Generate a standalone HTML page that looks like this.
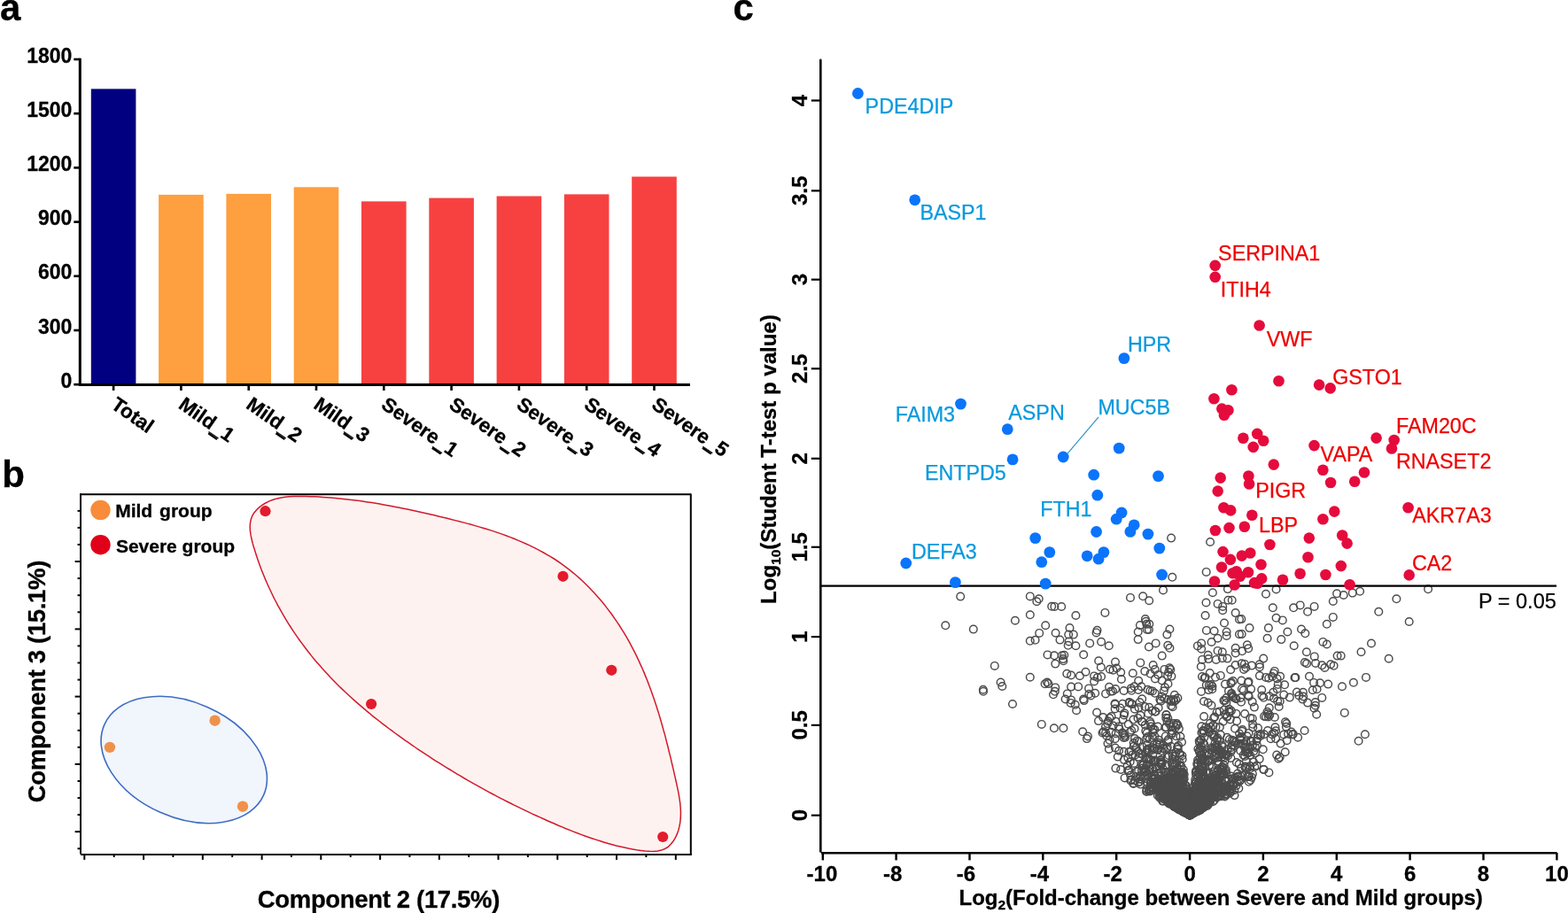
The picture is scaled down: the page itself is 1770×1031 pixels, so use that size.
<!DOCTYPE html>
<html><head><meta charset="utf-8"><title>Figure</title>
<style>html,body{margin:0;padding:0;background:#fff;overflow:hidden;} svg{display:block;} text{font-family:"Liberation Sans", Arial, sans-serif;} text[font-weight=bold]{stroke:#000;stroke-width:0.3px;}</style>
</head><body>
<svg width="1770" height="1031" viewBox="0 0 1770 1031" font-family='"Liberation Sans", Arial, sans-serif'>
<rect width="1770" height="1031" fill="#fff"/>
<text x="0" y="23.3" font-size="42" font-weight="bold">a</text>
<rect x="102.8" y="100.4" width="50.6" height="333.8" fill="#000080"/>
<rect x="179.1" y="219.9" width="50.6" height="214.3" fill="#fe9f40"/>
<rect x="255.4" y="218.9" width="50.6" height="215.3" fill="#fe9f40"/>
<rect x="331.7" y="211.3" width="50.6" height="222.9" fill="#fe9f40"/>
<rect x="408.0" y="227.4" width="50.6" height="206.8" fill="#f74141"/>
<rect x="484.3" y="223.6" width="50.6" height="210.6" fill="#f74141"/>
<rect x="560.6" y="221.5" width="50.6" height="212.7" fill="#f74141"/>
<rect x="636.9" y="219.4" width="50.6" height="214.8" fill="#f74141"/>
<rect x="713.2" y="199.5" width="50.6" height="234.7" fill="#f74141"/>
<line x1="90.3" y1="65.8" x2="90.3" y2="435.8" stroke="#000" stroke-width="3"/>
<line x1="89" y1="434.5" x2="779" y2="434.5" stroke="#000" stroke-width="3"/>
<line x1="83.3" y1="434.2" x2="90.3" y2="434.2" stroke="#000" stroke-width="2.6"/>
<text x="81.3" y="437.7" font-size="23" font-weight="bold" text-anchor="end">0</text>
<line x1="83.3" y1="373.0" x2="90.3" y2="373.0" stroke="#000" stroke-width="2.6"/>
<text x="81.3" y="376.5" font-size="23" font-weight="bold" text-anchor="end">300</text>
<line x1="83.3" y1="311.8" x2="90.3" y2="311.8" stroke="#000" stroke-width="2.6"/>
<text x="81.3" y="315.3" font-size="23" font-weight="bold" text-anchor="end">600</text>
<line x1="83.3" y1="250.6" x2="90.3" y2="250.6" stroke="#000" stroke-width="2.6"/>
<text x="81.3" y="254.1" font-size="23" font-weight="bold" text-anchor="end">900</text>
<line x1="83.3" y1="189.4" x2="90.3" y2="189.4" stroke="#000" stroke-width="2.6"/>
<text x="81.3" y="192.9" font-size="23" font-weight="bold" text-anchor="end">1200</text>
<line x1="83.3" y1="128.2" x2="90.3" y2="128.2" stroke="#000" stroke-width="2.6"/>
<text x="81.3" y="131.7" font-size="23" font-weight="bold" text-anchor="end">1500</text>
<line x1="83.3" y1="67.0" x2="90.3" y2="67.0" stroke="#000" stroke-width="2.6"/>
<text x="81.3" y="70.5" font-size="23" font-weight="bold" text-anchor="end">1800</text>
<line x1="128.1" y1="434.4" x2="128.1" y2="441" stroke="#000" stroke-width="2.6"/>
<text transform="translate(123.9,459.9) rotate(35)" font-size="22.6" font-weight="bold" stroke="#000" stroke-width="0.35">Total</text>
<line x1="204.4" y1="434.4" x2="204.4" y2="441" stroke="#000" stroke-width="2.6"/>
<text transform="translate(200.2,459.9) rotate(35)" font-size="22.6" font-weight="bold" stroke="#000" stroke-width="0.35">Mild_1</text>
<line transform="translate(200.2,459.9) rotate(35)" x1="45.5" y1="3.9" x2="57.5" y2="3.9" stroke="#000" stroke-width="2.3"/>
<line x1="280.7" y1="434.4" x2="280.7" y2="441" stroke="#000" stroke-width="2.6"/>
<text transform="translate(276.5,459.9) rotate(35)" font-size="22.6" font-weight="bold" stroke="#000" stroke-width="0.35">Mild_2</text>
<line transform="translate(276.5,459.9) rotate(35)" x1="45.5" y1="3.9" x2="57.5" y2="3.9" stroke="#000" stroke-width="2.3"/>
<line x1="357.0" y1="434.4" x2="357.0" y2="441" stroke="#000" stroke-width="2.6"/>
<text transform="translate(352.8,459.9) rotate(35)" font-size="22.6" font-weight="bold" stroke="#000" stroke-width="0.35">Mild_3</text>
<line transform="translate(352.8,459.9) rotate(35)" x1="45.5" y1="3.9" x2="57.5" y2="3.9" stroke="#000" stroke-width="2.3"/>
<line x1="433.3" y1="434.4" x2="433.3" y2="441" stroke="#000" stroke-width="2.6"/>
<text transform="translate(429.1,459.9) rotate(35)" font-size="22.6" font-weight="bold" stroke="#000" stroke-width="0.35">Severe_1</text>
<line transform="translate(429.1,459.9) rotate(35)" x1="74.4" y1="3.9" x2="86.4" y2="3.9" stroke="#000" stroke-width="2.3"/>
<line x1="509.6" y1="434.4" x2="509.6" y2="441" stroke="#000" stroke-width="2.6"/>
<text transform="translate(505.4,459.9) rotate(35)" font-size="22.6" font-weight="bold" stroke="#000" stroke-width="0.35">Severe_2</text>
<line transform="translate(505.4,459.9) rotate(35)" x1="74.4" y1="3.9" x2="86.4" y2="3.9" stroke="#000" stroke-width="2.3"/>
<line x1="585.9" y1="434.4" x2="585.9" y2="441" stroke="#000" stroke-width="2.6"/>
<text transform="translate(581.7,459.9) rotate(35)" font-size="22.6" font-weight="bold" stroke="#000" stroke-width="0.35">Severe_3</text>
<line transform="translate(581.7,459.9) rotate(35)" x1="74.4" y1="3.9" x2="86.4" y2="3.9" stroke="#000" stroke-width="2.3"/>
<line x1="662.2" y1="434.4" x2="662.2" y2="441" stroke="#000" stroke-width="2.6"/>
<text transform="translate(658.0,459.9) rotate(35)" font-size="22.6" font-weight="bold" stroke="#000" stroke-width="0.35">Severe_4</text>
<line transform="translate(658.0,459.9) rotate(35)" x1="74.4" y1="3.9" x2="86.4" y2="3.9" stroke="#000" stroke-width="2.3"/>
<line x1="738.5" y1="434.4" x2="738.5" y2="441" stroke="#000" stroke-width="2.6"/>
<text transform="translate(734.3,459.9) rotate(35)" font-size="22.6" font-weight="bold" stroke="#000" stroke-width="0.35">Severe_5</text>
<line transform="translate(734.3,459.9) rotate(35)" x1="74.4" y1="3.9" x2="86.4" y2="3.9" stroke="#000" stroke-width="2.3"/>
<text x="2.2" y="549.5" font-size="42" font-weight="bold">b</text>
<ellipse cx="207.75" cy="858" rx="98.3" ry="65.1" transform="rotate(23.8 207.75 858)" fill="#f1f5fc" stroke="#3d6cc4" stroke-width="1.6"/>
<path d="M284.5,583.1 L286.5,579.5 L289.2,576.2 L292.3,573.1 L295.9,570.4 L299.8,568.0 L304.0,565.9 L308.4,564.2 L312.9,562.9 L317.4,561.9 L322.0,561.2 L326.7,560.7 L331.4,560.5 L336.2,560.4 L341.0,560.4 L345.7,560.5 L350.4,560.7 L355.2,560.8 L359.9,561.1 L364.5,561.4 L369.2,561.7 L373.8,562.1 L378.5,562.5 L383.1,562.9 L387.7,563.4 L392.2,563.9 L396.8,564.4 L401.4,565.0 L405.9,565.6 L410.4,566.2 L414.9,566.9 L419.5,567.6 L424.0,568.3 L428.5,569.1 L433.0,569.9 L437.4,570.7 L441.9,571.5 L446.4,572.4 L450.9,573.3 L455.4,574.2 L459.8,575.1 L464.3,576.0 L468.8,577.0 L473.2,578.0 L477.7,579.0 L482.2,580.0 L486.7,581.1 L491.2,582.1 L495.7,583.2 L500.2,584.2 L504.7,585.3 L509.2,586.4 L513.7,587.6 L518.2,588.7 L522.7,589.9 L527.2,591.1 L531.7,592.3 L536.2,593.6 L540.7,594.9 L545.2,596.2 L549.6,597.5 L554.0,598.9 L558.5,600.4 L562.9,601.9 L567.3,603.4 L571.6,605.0 L576.0,606.6 L580.3,608.3 L584.5,610.1 L588.8,611.9 L593.0,613.7 L597.2,615.6 L601.3,617.6 L605.4,619.7 L609.5,621.8 L613.5,624.0 L617.5,626.3 L621.5,628.6 L625.4,631.0 L629.2,633.5 L633.0,636.1 L636.7,638.8 L640.4,641.6 L644.0,644.4 L647.6,647.3 L651.1,650.3 L654.6,653.4 L658.0,656.5 L661.3,659.7 L664.6,663.0 L667.9,666.4 L671.0,669.8 L674.1,673.2 L677.2,676.7 L680.2,680.3 L683.1,683.9 L685.9,687.6 L688.7,691.3 L691.5,695.0 L694.1,698.8 L696.7,702.6 L699.3,706.5 L701.7,710.3 L704.1,714.2 L706.5,718.2 L708.8,722.1 L711.0,726.1 L713.1,730.1 L715.2,734.2 L717.3,738.2 L719.3,742.3 L721.2,746.4 L723.1,750.6 L725.0,754.7 L726.8,758.9 L728.5,763.1 L730.2,767.3 L731.9,771.6 L733.5,775.9 L735.1,780.2 L736.6,784.5 L738.1,788.8 L739.6,793.2 L741.0,797.6 L742.4,801.9 L743.8,806.4 L745.1,810.8 L746.4,815.2 L747.7,819.7 L748.9,824.2 L750.2,828.6 L751.4,833.1 L752.5,837.7 L753.7,842.2 L754.8,846.7 L755.9,851.3 L757.1,855.9 L758.1,860.5 L759.2,865.0 L760.3,869.7 L761.3,874.3 L762.4,878.9 L763.4,883.5 L764.4,888.2 L765.4,892.8 L766.3,897.4 L767.0,902.0 L767.7,906.6 L768.1,911.2 L768.4,915.7 L768.4,920.2 L768.2,924.7 L767.7,929.1 L766.9,933.4 L765.8,937.7 L764.3,941.9 L762.4,946.0 L760.1,949.8 L757.3,953.3 L754.2,956.3 L750.6,958.5 L746.7,960.1 L742.4,961.0 L737.8,961.4 L733.0,961.3 L728.2,961.0 L723.4,960.4 L718.6,959.7 L713.9,958.9 L709.2,958.0 L704.6,957.0 L700.1,956.0 L695.5,954.9 L691.0,953.7 L686.5,952.5 L682.1,951.2 L677.7,949.8 L673.3,948.4 L668.9,947.0 L664.5,945.5 L660.2,944.0 L655.9,942.4 L651.6,940.8 L647.3,939.1 L643.1,937.4 L638.8,935.7 L634.6,933.9 L630.4,932.2 L626.1,930.3 L621.9,928.5 L617.8,926.7 L613.6,924.8 L609.4,922.9 L605.2,921.0 L601.0,919.1 L596.9,917.1 L592.7,915.1 L588.6,913.1 L584.5,911.1 L580.3,909.1 L576.2,907.0 L572.1,905.0 L568.0,902.9 L563.9,900.8 L559.8,898.6 L555.8,896.5 L551.7,894.3 L547.6,892.1 L543.6,889.9 L539.6,887.6 L535.5,885.4 L531.5,883.1 L527.5,880.8 L523.5,878.5 L519.6,876.2 L515.6,873.8 L511.6,871.4 L507.7,869.0 L503.7,866.6 L499.8,864.2 L495.9,861.7 L492.0,859.3 L488.1,856.8 L484.2,854.2 L480.3,851.7 L476.5,849.2 L472.6,846.6 L468.8,844.0 L465.0,841.4 L461.2,838.7 L457.4,836.1 L453.6,833.4 L449.8,830.7 L446.1,828.0 L442.4,825.2 L438.7,822.5 L435.0,819.7 L431.3,816.9 L427.7,814.0 L424.0,811.2 L420.4,808.3 L416.9,805.3 L413.3,802.4 L409.8,799.4 L406.3,796.4 L402.8,793.4 L399.4,790.4 L396.0,787.3 L392.6,784.2 L389.2,781.0 L385.9,777.9 L382.6,774.7 L379.4,771.4 L376.2,768.2 L373.0,764.9 L369.9,761.5 L366.8,758.2 L363.7,754.8 L360.7,751.3 L357.7,747.9 L354.7,744.4 L351.8,740.9 L349.0,737.3 L346.2,733.7 L343.4,730.0 L340.7,726.4 L338.0,722.7 L335.3,718.9 L332.7,715.2 L330.2,711.3 L327.7,707.5 L325.2,703.6 L322.8,699.7 L320.4,695.7 L318.1,691.7 L315.9,687.7 L313.6,683.6 L311.5,679.5 L309.3,675.4 L307.3,671.2 L305.3,667.0 L303.3,662.7 L301.4,658.5 L299.5,654.1 L297.7,649.8 L295.9,645.4 L294.2,640.9 L292.6,636.4 L291.0,631.9 L289.5,627.4 L288.0,622.8 L286.5,618.1 L285.2,613.5 L284.0,608.8 L283.1,604.2 L282.4,599.7 L282.2,595.3 L282.4,591.0 L283.2,587.0 Z" fill="#fef2f0" stroke="#d2192b" stroke-width="1.5"/>
<line x1="91" y1="557.5" x2="91" y2="964.5" stroke="#000" stroke-width="2"/>
<line x1="90" y1="558.2" x2="780" y2="558.2" stroke="#000" stroke-width="2"/>
<line x1="779.8" y1="557.5" x2="779.8" y2="965.5" stroke="#000" stroke-width="2"/>
<line x1="91" y1="964.9" x2="780.8" y2="964.9" stroke="#000" stroke-width="2"/>
<line x1="87.5" y1="576.9" x2="91" y2="576.9" stroke="#000" stroke-width="2"/>
<line x1="87.5" y1="595.9" x2="91" y2="595.9" stroke="#000" stroke-width="2"/>
<line x1="87.5" y1="615.0" x2="91" y2="615.0" stroke="#000" stroke-width="2"/>
<line x1="84.6" y1="634.1" x2="91" y2="634.1" stroke="#000" stroke-width="2"/>
<line x1="87.5" y1="653.1" x2="91" y2="653.1" stroke="#000" stroke-width="2"/>
<line x1="87.5" y1="672.2" x2="91" y2="672.2" stroke="#000" stroke-width="2"/>
<line x1="87.5" y1="691.3" x2="91" y2="691.3" stroke="#000" stroke-width="2"/>
<line x1="84.6" y1="710.4" x2="91" y2="710.4" stroke="#000" stroke-width="2"/>
<line x1="87.5" y1="729.4" x2="91" y2="729.4" stroke="#000" stroke-width="2"/>
<line x1="87.5" y1="748.5" x2="91" y2="748.5" stroke="#000" stroke-width="2"/>
<line x1="87.5" y1="767.6" x2="91" y2="767.6" stroke="#000" stroke-width="2"/>
<line x1="84.6" y1="786.6" x2="91" y2="786.6" stroke="#000" stroke-width="2"/>
<line x1="87.5" y1="805.7" x2="91" y2="805.7" stroke="#000" stroke-width="2"/>
<line x1="87.5" y1="824.8" x2="91" y2="824.8" stroke="#000" stroke-width="2"/>
<line x1="87.5" y1="843.8" x2="91" y2="843.8" stroke="#000" stroke-width="2"/>
<line x1="84.6" y1="862.9" x2="91" y2="862.9" stroke="#000" stroke-width="2"/>
<line x1="87.5" y1="882.0" x2="91" y2="882.0" stroke="#000" stroke-width="2"/>
<line x1="87.5" y1="901.1" x2="91" y2="901.1" stroke="#000" stroke-width="2"/>
<line x1="87.5" y1="920.1" x2="91" y2="920.1" stroke="#000" stroke-width="2"/>
<line x1="84.6" y1="939.2" x2="91" y2="939.2" stroke="#000" stroke-width="2"/>
<line x1="87.5" y1="958.3" x2="91" y2="958.3" stroke="#000" stroke-width="2"/>
<line x1="95.3" y1="964.9" x2="95.3" y2="970.9" stroke="#000" stroke-width="2"/>
<line x1="128.7" y1="964.9" x2="128.7" y2="968" stroke="#000" stroke-width="2"/>
<line x1="162.1" y1="964.9" x2="162.1" y2="970.9" stroke="#000" stroke-width="2"/>
<line x1="195.4" y1="964.9" x2="195.4" y2="968" stroke="#000" stroke-width="2"/>
<line x1="228.8" y1="964.9" x2="228.8" y2="970.9" stroke="#000" stroke-width="2"/>
<line x1="262.2" y1="964.9" x2="262.2" y2="968" stroke="#000" stroke-width="2"/>
<line x1="295.6" y1="964.9" x2="295.6" y2="970.9" stroke="#000" stroke-width="2"/>
<line x1="328.9" y1="964.9" x2="328.9" y2="968" stroke="#000" stroke-width="2"/>
<line x1="362.3" y1="964.9" x2="362.3" y2="970.9" stroke="#000" stroke-width="2"/>
<line x1="395.7" y1="964.9" x2="395.7" y2="968" stroke="#000" stroke-width="2"/>
<line x1="429.1" y1="964.9" x2="429.1" y2="970.9" stroke="#000" stroke-width="2"/>
<line x1="462.4" y1="964.9" x2="462.4" y2="968" stroke="#000" stroke-width="2"/>
<line x1="495.8" y1="964.9" x2="495.8" y2="970.9" stroke="#000" stroke-width="2"/>
<line x1="529.2" y1="964.9" x2="529.2" y2="968" stroke="#000" stroke-width="2"/>
<line x1="562.5" y1="964.9" x2="562.5" y2="970.9" stroke="#000" stroke-width="2"/>
<line x1="595.9" y1="964.9" x2="595.9" y2="968" stroke="#000" stroke-width="2"/>
<line x1="629.3" y1="964.9" x2="629.3" y2="970.9" stroke="#000" stroke-width="2"/>
<line x1="662.7" y1="964.9" x2="662.7" y2="968" stroke="#000" stroke-width="2"/>
<line x1="696.0" y1="964.9" x2="696.0" y2="970.9" stroke="#000" stroke-width="2"/>
<line x1="729.4" y1="964.9" x2="729.4" y2="968" stroke="#000" stroke-width="2"/>
<line x1="762.8" y1="964.9" x2="762.8" y2="970.9" stroke="#000" stroke-width="2"/>
<circle cx="123.9" cy="843.9" r="6.2" fill="#f0914a"/>
<circle cx="242.6" cy="813.7" r="6.2" fill="#f0914a"/>
<circle cx="274" cy="910.7" r="6.2" fill="#f0914a"/>
<circle cx="299.5" cy="577.2" r="6.1" fill="#e31b2c"/>
<circle cx="635.5" cy="650.8" r="6.1" fill="#e31b2c"/>
<circle cx="690.3" cy="756.8" r="6.1" fill="#e31b2c"/>
<circle cx="419.1" cy="795" r="6.1" fill="#e31b2c"/>
<circle cx="748.2" cy="945" r="6.1" fill="#e31b2c"/>
<circle cx="113.45" cy="576" r="11.2" fill="#f98c3a"/>
<circle cx="113.45" cy="615.2" r="11.2" fill="#e1001a"/>
<text y="584.2" font-size="21" font-weight="bold"><tspan x="130.2">Mild</tspan><tspan x="180.1">group</tspan></text>
<text x="130.9" y="624.1" font-size="21" font-weight="bold">Severe group</text>
<text transform="translate(51.2,906.2) rotate(-90)" font-size="27.5" font-weight="bold" textLength="273.5" lengthAdjust="spacing">Component 3 (15.1%)</text>
<text x="290.8" y="1024.7" font-size="27.5" font-weight="bold" textLength="273.5" lengthAdjust="spacing">Component 2 (17.5%)</text>
<text x="827.6" y="23.3" font-size="42" font-weight="bold">c</text>
<path d="M1318,903 L1326,896 L1337,898 L1343,904 L1349,898 L1358,896 L1364,902 L1358,911 L1350,917 L1343.7,920.5 L1334,914 L1324,908 Z" fill="#4a4a4a"/>
<g fill="none" stroke="#4b4b4b" stroke-width="1.45"><circle cx="1084.2" cy="673.6" r="4.3"/><circle cx="1067.3" cy="706.3" r="4.3"/><circle cx="1098.8" cy="710.6" r="4.3"/><circle cx="1145.9" cy="700.7" r="4.3"/><circle cx="1162.8" cy="673.4" r="4.3"/><circle cx="1172.7" cy="676.3" r="4.3"/><circle cx="1170.3" cy="679.2" r="4.3"/><circle cx="1187.2" cy="684.8" r="4.3"/><circle cx="1198.2" cy="685.0" r="4.3"/><circle cx="1162.8" cy="694.3" r="4.3"/><circle cx="1180.2" cy="706.2" r="4.3"/><circle cx="1173.2" cy="714.9" r="4.3"/><circle cx="1168.6" cy="722.8" r="4.3"/><circle cx="1162.8" cy="723.8" r="4.3"/><circle cx="1191.6" cy="714.7" r="4.3"/><circle cx="1196.5" cy="722.6" r="4.3"/><circle cx="1182.5" cy="739.4" r="4.3"/><circle cx="1190.1" cy="740.3" r="4.3"/><circle cx="1191.3" cy="749.6" r="4.3"/><circle cx="1198.8" cy="740.3" r="4.3"/><circle cx="1122.8" cy="751.9" r="4.3"/><circle cx="1162.8" cy="764.7" r="4.3"/><circle cx="1129.6" cy="770.5" r="4.3"/><circle cx="1131.3" cy="775.0" r="4.3"/><circle cx="1182.0" cy="770.5" r="4.3"/><circle cx="1179.6" cy="772.3" r="4.3"/><circle cx="1191.3" cy="776.4" r="4.3"/><circle cx="1109.8" cy="778.7" r="4.3"/><circle cx="1276.0" cy="674.9" r="4.3"/><circle cx="1290.2" cy="673.3" r="4.3"/><circle cx="1297.2" cy="678.2" r="4.3"/><circle cx="1190.4" cy="684.9" r="4.3"/><circle cx="1214.4" cy="695.0" r="4.3"/><circle cx="1247.4" cy="691.9" r="4.3"/><circle cx="1207.5" cy="709.0" r="4.3"/><circle cx="1206.2" cy="716.6" r="4.3"/><circle cx="1211.8" cy="716.6" r="4.3"/><circle cx="1206.6" cy="724.4" r="4.3"/><circle cx="1205.7" cy="728.8" r="4.3"/><circle cx="1214.4" cy="729.2" r="4.3"/><circle cx="1230.2" cy="726.4" r="4.3"/><circle cx="1238.5" cy="711.8" r="4.3"/><circle cx="1237.6" cy="714.4" r="4.3"/><circle cx="1243.1" cy="724.7" r="4.3"/><circle cx="1251.8" cy="729.2" r="4.3"/><circle cx="1293.5" cy="701.7" r="4.3"/><circle cx="1294.3" cy="704.8" r="4.3"/><circle cx="1286.9" cy="706.1" r="4.3"/><circle cx="1294.8" cy="710.9" r="4.3"/><circle cx="1284.7" cy="713.5" r="4.3"/><circle cx="1284.7" cy="722.1" r="4.3"/><circle cx="1296.9" cy="730.5" r="4.3"/><circle cx="1223.2" cy="739.3" r="4.3"/><circle cx="1201.3" cy="739.7" r="4.3"/><circle cx="1200.0" cy="744.1" r="4.3"/><circle cx="1240.2" cy="746.2" r="4.3"/><circle cx="1259.0" cy="747.6" r="4.3"/><circle cx="1287.3" cy="748.4" r="4.3"/><circle cx="1313.0" cy="666.4" r="4.3"/><circle cx="1368.9" cy="669.2" r="4.3"/><circle cx="1385.9" cy="665.1" r="4.3"/><circle cx="1361.5" cy="680.5" r="4.3"/><circle cx="1374.6" cy="681.9" r="4.3"/><circle cx="1380.2" cy="684.9" r="4.3"/><circle cx="1380.2" cy="689.2" r="4.3"/><circle cx="1386.4" cy="677.7" r="4.3"/><circle cx="1390.7" cy="677.7" r="4.3"/><circle cx="1394.7" cy="692.1" r="4.3"/><circle cx="1399.0" cy="699.4" r="4.3"/><circle cx="1360.6" cy="695.0" r="4.3"/><circle cx="1382.0" cy="703.5" r="4.3"/><circle cx="1361.9" cy="711.9" r="4.3"/><circle cx="1370.6" cy="712.5" r="4.3"/><circle cx="1384.6" cy="713.5" r="4.3"/><circle cx="1384.6" cy="717.9" r="4.3"/><circle cx="1399.0" cy="716.3" r="4.3"/><circle cx="1374.6" cy="720.7" r="4.3"/><circle cx="1367.6" cy="725.0" r="4.3"/><circle cx="1356.2" cy="726.4" r="4.3"/><circle cx="1351.9" cy="729.4" r="4.3"/><circle cx="1356.2" cy="732.7" r="4.3"/><circle cx="1394.7" cy="731.8" r="4.3"/><circle cx="1394.7" cy="737.5" r="4.3"/><circle cx="1402.1" cy="735.3" r="4.3"/><circle cx="1374.6" cy="734.9" r="4.3"/><circle cx="1379.8" cy="736.2" r="4.3"/><circle cx="1385.5" cy="743.6" r="4.3"/><circle cx="1379.8" cy="743.2" r="4.3"/><circle cx="1363.7" cy="739.7" r="4.3"/><circle cx="1357.1" cy="744.9" r="4.3"/><circle cx="1364.1" cy="744.1" r="4.3"/><circle cx="1372.8" cy="744.9" r="4.3"/><circle cx="1401.6" cy="749.3" r="4.3"/><circle cx="1320.4" cy="710.5" r="4.3"/><circle cx="1317.4" cy="716.6" r="4.3"/><circle cx="1304.7" cy="726.4" r="4.3"/><circle cx="1318.3" cy="728.8" r="4.3"/><circle cx="1320.4" cy="731.8" r="4.3"/><circle cx="1311.7" cy="740.6" r="4.3"/><circle cx="1297.3" cy="704.8" r="4.3"/><circle cx="1296.9" cy="710.9" r="4.3"/><circle cx="1301.7" cy="751.0" r="4.3"/><circle cx="1440.6" cy="665.5" r="4.3"/><circle cx="1429.0" cy="670.7" r="4.3"/><circle cx="1436.8" cy="686.3" r="4.3"/><circle cx="1460.2" cy="686.3" r="4.3"/><circle cx="1467.7" cy="683.4" r="4.3"/><circle cx="1476.1" cy="690.8" r="4.3"/><circle cx="1483.6" cy="684.9" r="4.3"/><circle cx="1504.8" cy="679.0" r="4.3"/><circle cx="1509.1" cy="670.3" r="4.3"/><circle cx="1401.3" cy="699.1" r="4.3"/><circle cx="1440.6" cy="697.8" r="4.3"/><circle cx="1447.8" cy="700.4" r="4.3"/><circle cx="1410.5" cy="709.1" r="4.3"/><circle cx="1431.9" cy="709.1" r="4.3"/><circle cx="1453.4" cy="713.5" r="4.3"/><circle cx="1469.0" cy="710.5" r="4.3"/><circle cx="1473.3" cy="715.3" r="4.3"/><circle cx="1497.8" cy="704.8" r="4.3"/><circle cx="1504.8" cy="696.9" r="4.3"/><circle cx="1401.7" cy="716.1" r="4.3"/><circle cx="1430.6" cy="720.7" r="4.3"/><circle cx="1446.3" cy="722.1" r="4.3"/><circle cx="1460.7" cy="729.2" r="4.3"/><circle cx="1493.4" cy="724.9" r="4.3"/><circle cx="1497.8" cy="727.5" r="4.3"/><circle cx="1407.9" cy="728.3" r="4.3"/><circle cx="1409.2" cy="732.3" r="4.3"/><circle cx="1426.2" cy="743.6" r="4.3"/><circle cx="1474.9" cy="736.2" r="4.3"/><circle cx="1483.8" cy="741.4" r="4.3"/><circle cx="1472.9" cy="748.0" r="4.3"/><circle cx="1485.1" cy="748.9" r="4.3"/><circle cx="1502.1" cy="750.2" r="4.3"/><circle cx="1421.8" cy="750.2" r="4.3"/><circle cx="1509.6" cy="740.6" r="4.3"/><circle cx="1516.7" cy="672.0" r="4.3"/><circle cx="1526.8" cy="669.6" r="4.3"/><circle cx="1535.1" cy="667.8" r="4.3"/><circle cx="1576.4" cy="676.3" r="4.3"/><circle cx="1612.1" cy="665.3" r="4.3"/><circle cx="1556.3" cy="690.8" r="4.3"/><circle cx="1590.7" cy="702.0" r="4.3"/><circle cx="1548.0" cy="726.5" r="4.3"/><circle cx="1536.5" cy="736.2" r="4.3"/><circle cx="1513.7" cy="740.6" r="4.3"/><circle cx="1567.7" cy="743.7" r="4.3"/><circle cx="1505.6" cy="751.8" r="4.3"/><circle cx="1542.0" cy="764.9" r="4.3"/><circle cx="1527.9" cy="770.8" r="4.3"/><circle cx="1515.0" cy="775.2" r="4.3"/><circle cx="1110.0" cy="780.8" r="4.3"/><circle cx="1143.0" cy="795.0" r="4.3"/><circle cx="1200.4" cy="746.3" r="4.3"/><circle cx="1204.3" cy="760.7" r="4.3"/><circle cx="1209.1" cy="762.5" r="4.3"/><circle cx="1183.4" cy="772.1" r="4.3"/><circle cx="1190.8" cy="780.8" r="4.3"/><circle cx="1189.0" cy="784.3" r="4.3"/><circle cx="1209.1" cy="775.6" r="4.3"/><circle cx="1204.8" cy="783.4" r="4.3"/><circle cx="1202.6" cy="789.5" r="4.3"/><circle cx="1209.1" cy="790.4" r="4.3"/><circle cx="1208.7" cy="793.9" r="4.3"/><circle cx="1175.8" cy="817.9" r="4.3"/><circle cx="1189.9" cy="822.3" r="4.3"/><circle cx="1200.4" cy="822.3" r="4.3"/><circle cx="1499.2" cy="772.6" r="4.3"/><circle cx="1490.1" cy="771.3" r="4.3"/><circle cx="1483.1" cy="770.9" r="4.3"/><circle cx="1481.8" cy="779.2" r="4.3"/><circle cx="1486.6" cy="778.3" r="4.3"/><circle cx="1470.9" cy="781.8" r="4.3"/><circle cx="1492.3" cy="787.9" r="4.3"/><circle cx="1484.8" cy="793.1" r="4.3"/><circle cx="1476.1" cy="793.6" r="4.3"/><circle cx="1470.4" cy="789.6" r="4.3"/><circle cx="1483.5" cy="799.7" r="4.3"/><circle cx="1486.2" cy="806.7" r="4.3"/><circle cx="1517.8" cy="804.9" r="4.3"/><circle cx="1472.6" cy="825.0" r="4.3"/><circle cx="1540.9" cy="829.2" r="4.3"/><circle cx="1533.6" cy="836.8" r="4.3"/><circle cx="1465.1" cy="832.7" r="4.3"/><circle cx="1457.7" cy="826.5" r="4.3"/><circle cx="1450.7" cy="849.2" r="4.3"/><circle cx="1443.3" cy="856.7" r="4.3"/><circle cx="1432.4" cy="872.4" r="4.3"/><circle cx="1426.3" cy="868.9" r="4.3"/><circle cx="1409.7" cy="882.8" r="4.3"/><circle cx="1393.5" cy="898.1" r="4.3"/><circle cx="1382.6" cy="899.4" r="4.3"/><circle cx="1322.1" cy="607.6" r="4.3"/><circle cx="1323.3" cy="651.8" r="4.3"/><circle cx="1366.1" cy="612.0" r="4.3"/><circle cx="1361.7" cy="645.9" r="4.3"/><circle cx="1292.9" cy="699.0" r="4.3"/><circle cx="1317.5" cy="887.9" r="4.3"/><circle cx="1371.9" cy="886.2" r="4.3"/><circle cx="1323.3" cy="880.6" r="4.3"/><circle cx="1347.6" cy="894.8" r="4.3"/><circle cx="1358.5" cy="907.2" r="4.3"/><circle cx="1355.9" cy="883.4" r="4.3"/><circle cx="1332.4" cy="905.3" r="4.3"/><circle cx="1306.5" cy="885.8" r="4.3"/><circle cx="1356.1" cy="892.7" r="4.3"/><circle cx="1366.3" cy="902.9" r="4.3"/><circle cx="1335.4" cy="908.1" r="4.3"/><circle cx="1339.2" cy="887.6" r="4.3"/><circle cx="1315.6" cy="872.1" r="4.3"/><circle cx="1328.8" cy="898.9" r="4.3"/><circle cx="1356.7" cy="879.7" r="4.3"/><circle cx="1338.5" cy="887.0" r="4.3"/><circle cx="1332.2" cy="909.4" r="4.3"/><circle cx="1319.0" cy="882.5" r="4.3"/><circle cx="1358.2" cy="900.4" r="4.3"/><circle cx="1314.8" cy="894.3" r="4.3"/><circle cx="1344.4" cy="900.7" r="4.3"/><circle cx="1352.3" cy="888.6" r="4.3"/><circle cx="1359.5" cy="902.8" r="4.3"/><circle cx="1332.8" cy="882.5" r="4.3"/><circle cx="1320.2" cy="894.5" r="4.3"/><circle cx="1351.4" cy="901.0" r="4.3"/><circle cx="1313.0" cy="892.0" r="4.3"/><circle cx="1340.5" cy="899.8" r="4.3"/><circle cx="1354.8" cy="894.7" r="4.3"/><circle cx="1343.1" cy="898.5" r="4.3"/><circle cx="1320.8" cy="894.7" r="4.3"/><circle cx="1321.1" cy="898.6" r="4.3"/><circle cx="1360.9" cy="884.6" r="4.3"/><circle cx="1355.5" cy="878.4" r="4.3"/><circle cx="1308.0" cy="885.7" r="4.3"/><circle cx="1319.5" cy="899.1" r="4.3"/><circle cx="1314.1" cy="895.5" r="4.3"/><circle cx="1353.0" cy="905.5" r="4.3"/><circle cx="1328.2" cy="908.9" r="4.3"/><circle cx="1323.7" cy="883.4" r="4.3"/><circle cx="1326.2" cy="875.6" r="4.3"/><circle cx="1365.2" cy="878.9" r="4.3"/><circle cx="1335.6" cy="888.4" r="4.3"/><circle cx="1363.1" cy="894.1" r="4.3"/><circle cx="1328.6" cy="877.9" r="4.3"/><circle cx="1348.3" cy="892.3" r="4.3"/><circle cx="1328.7" cy="881.0" r="4.3"/><circle cx="1335.7" cy="890.2" r="4.3"/><circle cx="1328.6" cy="901.8" r="4.3"/><circle cx="1337.8" cy="913.2" r="4.3"/><circle cx="1365.4" cy="891.5" r="4.3"/><circle cx="1327.9" cy="890.0" r="4.3"/><circle cx="1323.1" cy="897.4" r="4.3"/><circle cx="1321.4" cy="873.8" r="4.3"/><circle cx="1317.1" cy="896.4" r="4.3"/><circle cx="1326.9" cy="904.3" r="4.3"/><circle cx="1340.5" cy="898.0" r="4.3"/><circle cx="1345.6" cy="894.0" r="4.3"/><circle cx="1330.7" cy="906.8" r="4.3"/><circle cx="1369.9" cy="884.1" r="4.3"/><circle cx="1320.9" cy="881.6" r="4.3"/><circle cx="1350.5" cy="883.1" r="4.3"/><circle cx="1317.5" cy="878.7" r="4.3"/><circle cx="1317.8" cy="904.1" r="4.3"/><circle cx="1341.5" cy="910.3" r="4.3"/><circle cx="1322.5" cy="889.1" r="4.3"/><circle cx="1344.9" cy="914.7" r="4.3"/><circle cx="1339.0" cy="907.2" r="4.3"/><circle cx="1361.9" cy="883.3" r="4.3"/><circle cx="1314.0" cy="880.5" r="4.3"/><circle cx="1303.9" cy="879.6" r="4.3"/><circle cx="1325.0" cy="880.9" r="4.3"/><circle cx="1347.6" cy="901.1" r="4.3"/><circle cx="1360.7" cy="899.9" r="4.3"/><circle cx="1312.2" cy="894.8" r="4.3"/><circle cx="1322.1" cy="886.1" r="4.3"/><circle cx="1345.0" cy="896.9" r="4.3"/><circle cx="1348.6" cy="914.1" r="4.3"/><circle cx="1349.0" cy="916.3" r="4.3"/><circle cx="1351.5" cy="907.8" r="4.3"/><circle cx="1307.5" cy="880.0" r="4.3"/><circle cx="1387.0" cy="780.3" r="4.3"/><circle cx="1351.6" cy="894.2" r="4.3"/><circle cx="1336.2" cy="905.7" r="4.3"/><circle cx="1341.0" cy="919.3" r="4.3"/><circle cx="1373.2" cy="878.6" r="4.3"/><circle cx="1331.4" cy="908.4" r="4.3"/><circle cx="1344.7" cy="919.5" r="4.3"/><circle cx="1335.9" cy="913.8" r="4.3"/><circle cx="1352.1" cy="914.2" r="4.3"/><circle cx="1373.8" cy="843.7" r="4.3"/><circle cx="1316.1" cy="882.8" r="4.3"/><circle cx="1359.9" cy="859.1" r="4.3"/><circle cx="1366.8" cy="878.0" r="4.3"/><circle cx="1317.6" cy="904.0" r="4.3"/><circle cx="1318.5" cy="855.1" r="4.3"/><circle cx="1320.9" cy="888.2" r="4.3"/><circle cx="1415.9" cy="798.6" r="4.3"/><circle cx="1352.0" cy="892.9" r="4.3"/><circle cx="1340.2" cy="918.1" r="4.3"/><circle cx="1380.7" cy="814.7" r="4.3"/><circle cx="1368.5" cy="878.1" r="4.3"/><circle cx="1329.3" cy="912.1" r="4.3"/><circle cx="1261.8" cy="854.6" r="4.3"/><circle cx="1361.5" cy="899.0" r="4.3"/><circle cx="1437.7" cy="760.4" r="4.3"/><circle cx="1301.1" cy="879.8" r="4.3"/><circle cx="1357.4" cy="884.9" r="4.3"/><circle cx="1318.4" cy="905.8" r="4.3"/><circle cx="1374.5" cy="885.3" r="4.3"/><circle cx="1371.1" cy="892.8" r="4.3"/><circle cx="1303.7" cy="875.7" r="4.3"/><circle cx="1361.1" cy="905.9" r="4.3"/><circle cx="1364.7" cy="873.2" r="4.3"/><circle cx="1391.8" cy="885.7" r="4.3"/><circle cx="1335.7" cy="909.7" r="4.3"/><circle cx="1377.8" cy="873.7" r="4.3"/><circle cx="1267.5" cy="812.5" r="4.3"/><circle cx="1400.3" cy="876.3" r="4.3"/><circle cx="1331.7" cy="899.9" r="4.3"/><circle cx="1341.1" cy="916.1" r="4.3"/><circle cx="1284.5" cy="810.9" r="4.3"/><circle cx="1367.1" cy="902.0" r="4.3"/><circle cx="1317.4" cy="904.4" r="4.3"/><circle cx="1407.7" cy="831.2" r="4.3"/><circle cx="1314.6" cy="896.8" r="4.3"/><circle cx="1349.3" cy="883.1" r="4.3"/><circle cx="1332.4" cy="911.9" r="4.3"/><circle cx="1355.3" cy="908.6" r="4.3"/><circle cx="1298.6" cy="760.8" r="4.3"/><circle cx="1294.5" cy="892.7" r="4.3"/><circle cx="1375.5" cy="859.9" r="4.3"/><circle cx="1376.5" cy="836.8" r="4.3"/><circle cx="1349.9" cy="915.4" r="4.3"/><circle cx="1431.0" cy="825.1" r="4.3"/><circle cx="1300.8" cy="847.0" r="4.3"/><circle cx="1400.7" cy="839.8" r="4.3"/><circle cx="1356.6" cy="912.2" r="4.3"/><circle cx="1354.5" cy="904.8" r="4.3"/><circle cx="1478.0" cy="763.8" r="4.3"/><circle cx="1383.7" cy="881.7" r="4.3"/><circle cx="1384.4" cy="852.4" r="4.3"/><circle cx="1328.6" cy="891.3" r="4.3"/><circle cx="1258.6" cy="800.5" r="4.3"/><circle cx="1297.8" cy="834.5" r="4.3"/><circle cx="1302.6" cy="882.9" r="4.3"/><circle cx="1403.2" cy="840.1" r="4.3"/><circle cx="1318.2" cy="881.9" r="4.3"/><circle cx="1342.4" cy="919.7" r="4.3"/><circle cx="1400.3" cy="788.0" r="4.3"/><circle cx="1368.7" cy="865.3" r="4.3"/><circle cx="1302.6" cy="871.4" r="4.3"/><circle cx="1347.6" cy="912.1" r="4.3"/><circle cx="1368.4" cy="900.5" r="4.3"/><circle cx="1235.1" cy="763.4" r="4.3"/><circle cx="1364.3" cy="858.8" r="4.3"/><circle cx="1328.5" cy="912.3" r="4.3"/><circle cx="1352.5" cy="911.7" r="4.3"/><circle cx="1362.8" cy="873.6" r="4.3"/><circle cx="1362.7" cy="903.1" r="4.3"/><circle cx="1345.3" cy="918.8" r="4.3"/><circle cx="1348.6" cy="910.4" r="4.3"/><circle cx="1299.0" cy="817.3" r="4.3"/><circle cx="1342.6" cy="920.3" r="4.3"/><circle cx="1277.2" cy="824.7" r="4.3"/><circle cx="1341.2" cy="919.3" r="4.3"/><circle cx="1346.6" cy="916.3" r="4.3"/><circle cx="1380.9" cy="872.5" r="4.3"/><circle cx="1331.7" cy="911.7" r="4.3"/><circle cx="1345.8" cy="910.4" r="4.3"/><circle cx="1300.6" cy="867.5" r="4.3"/><circle cx="1374.4" cy="869.9" r="4.3"/><circle cx="1331.1" cy="908.4" r="4.3"/><circle cx="1330.0" cy="911.3" r="4.3"/><circle cx="1424.5" cy="785.7" r="4.3"/><circle cx="1331.6" cy="914.8" r="4.3"/><circle cx="1325.9" cy="901.2" r="4.3"/><circle cx="1325.8" cy="903.0" r="4.3"/><circle cx="1341.2" cy="919.5" r="4.3"/><circle cx="1263.1" cy="847.7" r="4.3"/><circle cx="1347.7" cy="915.5" r="4.3"/><circle cx="1431.2" cy="805.9" r="4.3"/><circle cx="1349.5" cy="910.0" r="4.3"/><circle cx="1374.9" cy="863.1" r="4.3"/><circle cx="1450.1" cy="773.3" r="4.3"/><circle cx="1398.0" cy="880.9" r="4.3"/><circle cx="1375.0" cy="870.1" r="4.3"/><circle cx="1390.0" cy="888.1" r="4.3"/><circle cx="1391.8" cy="887.3" r="4.3"/><circle cx="1310.7" cy="899.4" r="4.3"/><circle cx="1341.3" cy="918.9" r="4.3"/><circle cx="1325.1" cy="910.7" r="4.3"/><circle cx="1312.2" cy="897.0" r="4.3"/><circle cx="1350.4" cy="916.0" r="4.3"/><circle cx="1321.5" cy="906.8" r="4.3"/><circle cx="1356.0" cy="910.8" r="4.3"/><circle cx="1351.6" cy="915.3" r="4.3"/><circle cx="1268.4" cy="832.9" r="4.3"/><circle cx="1337.2" cy="913.7" r="4.3"/><circle cx="1331.2" cy="910.0" r="4.3"/><circle cx="1368.5" cy="900.1" r="4.3"/><circle cx="1260.4" cy="754.5" r="4.3"/><circle cx="1291.4" cy="871.0" r="4.3"/><circle cx="1344.3" cy="919.8" r="4.3"/><circle cx="1333.0" cy="908.4" r="4.3"/><circle cx="1362.2" cy="881.8" r="4.3"/><circle cx="1323.7" cy="895.6" r="4.3"/><circle cx="1298.7" cy="883.7" r="4.3"/><circle cx="1438.0" cy="788.5" r="4.3"/><circle cx="1308.9" cy="839.0" r="4.3"/><circle cx="1284.8" cy="883.6" r="4.3"/><circle cx="1315.4" cy="887.9" r="4.3"/><circle cx="1324.6" cy="881.6" r="4.3"/><circle cx="1305.0" cy="866.1" r="4.3"/><circle cx="1346.7" cy="912.7" r="4.3"/><circle cx="1441.7" cy="777.9" r="4.3"/><circle cx="1277.4" cy="779.8" r="4.3"/><circle cx="1334.2" cy="912.1" r="4.3"/><circle cx="1362.6" cy="905.9" r="4.3"/><circle cx="1413.0" cy="751.6" r="4.3"/><circle cx="1283.6" cy="836.4" r="4.3"/><circle cx="1346.8" cy="913.7" r="4.3"/><circle cx="1411.5" cy="881.0" r="4.3"/><circle cx="1236.2" cy="782.7" r="4.3"/><circle cx="1352.3" cy="909.1" r="4.3"/><circle cx="1292.7" cy="818.7" r="4.3"/><circle cx="1379.6" cy="866.0" r="4.3"/><circle cx="1442.2" cy="791.8" r="4.3"/><circle cx="1346.9" cy="915.5" r="4.3"/><circle cx="1334.3" cy="883.6" r="4.3"/><circle cx="1399.6" cy="833.5" r="4.3"/><circle cx="1307.4" cy="762.0" r="4.3"/><circle cx="1362.7" cy="898.1" r="4.3"/><circle cx="1333.1" cy="904.7" r="4.3"/><circle cx="1312.8" cy="897.1" r="4.3"/><circle cx="1368.0" cy="899.3" r="4.3"/><circle cx="1320.0" cy="902.0" r="4.3"/><circle cx="1329.0" cy="912.2" r="4.3"/><circle cx="1379.1" cy="850.2" r="4.3"/><circle cx="1342.6" cy="920.3" r="4.3"/><circle cx="1383.0" cy="897.4" r="4.3"/><circle cx="1344.6" cy="919.4" r="4.3"/><circle cx="1288.8" cy="814.7" r="4.3"/><circle cx="1337.4" cy="907.9" r="4.3"/><circle cx="1349.7" cy="915.6" r="4.3"/><circle cx="1324.7" cy="887.7" r="4.3"/><circle cx="1379.9" cy="894.2" r="4.3"/><circle cx="1365.2" cy="899.1" r="4.3"/><circle cx="1349.3" cy="910.5" r="4.3"/><circle cx="1362.0" cy="900.2" r="4.3"/><circle cx="1364.9" cy="900.5" r="4.3"/><circle cx="1347.8" cy="917.0" r="4.3"/><circle cx="1349.4" cy="899.7" r="4.3"/><circle cx="1362.3" cy="908.5" r="4.3"/><circle cx="1322.4" cy="896.0" r="4.3"/><circle cx="1362.8" cy="901.4" r="4.3"/><circle cx="1355.5" cy="887.2" r="4.3"/><circle cx="1383.5" cy="888.7" r="4.3"/><circle cx="1341.1" cy="919.3" r="4.3"/><circle cx="1346.7" cy="913.9" r="4.3"/><circle cx="1402.9" cy="875.7" r="4.3"/><circle cx="1358.7" cy="906.4" r="4.3"/><circle cx="1359.2" cy="907.3" r="4.3"/><circle cx="1331.3" cy="914.1" r="4.3"/><circle cx="1327.0" cy="895.3" r="4.3"/><circle cx="1370.5" cy="892.8" r="4.3"/><circle cx="1254.4" cy="826.8" r="4.3"/><circle cx="1406.0" cy="847.5" r="4.3"/><circle cx="1409.6" cy="827.9" r="4.3"/><circle cx="1466.4" cy="785.5" r="4.3"/><circle cx="1280.9" cy="800.7" r="4.3"/><circle cx="1273.2" cy="870.1" r="4.3"/><circle cx="1332.6" cy="912.1" r="4.3"/><circle cx="1313.8" cy="901.0" r="4.3"/><circle cx="1330.3" cy="902.4" r="4.3"/><circle cx="1361.4" cy="896.6" r="4.3"/><circle cx="1289.2" cy="789.3" r="4.3"/><circle cx="1341.8" cy="919.5" r="4.3"/><circle cx="1361.4" cy="890.2" r="4.3"/><circle cx="1370.8" cy="898.2" r="4.3"/><circle cx="1389.4" cy="856.0" r="4.3"/><circle cx="1336.3" cy="904.3" r="4.3"/><circle cx="1336.5" cy="911.3" r="4.3"/><circle cx="1349.4" cy="909.1" r="4.3"/><circle cx="1315.5" cy="898.6" r="4.3"/><circle cx="1413.8" cy="841.8" r="4.3"/><circle cx="1302.2" cy="878.7" r="4.3"/><circle cx="1347.3" cy="915.1" r="4.3"/><circle cx="1355.7" cy="909.4" r="4.3"/><circle cx="1412.1" cy="778.1" r="4.3"/><circle cx="1356.7" cy="911.4" r="4.3"/><circle cx="1416.3" cy="866.0" r="4.3"/><circle cx="1299.5" cy="858.8" r="4.3"/><circle cx="1334.2" cy="893.9" r="4.3"/><circle cx="1369.5" cy="871.4" r="4.3"/><circle cx="1373.9" cy="895.4" r="4.3"/><circle cx="1338.2" cy="918.0" r="4.3"/><circle cx="1358.5" cy="911.0" r="4.3"/><circle cx="1362.7" cy="891.6" r="4.3"/><circle cx="1326.5" cy="910.3" r="4.3"/><circle cx="1360.3" cy="907.5" r="4.3"/><circle cx="1351.1" cy="912.2" r="4.3"/><circle cx="1367.0" cy="894.3" r="4.3"/><circle cx="1344.2" cy="919.4" r="4.3"/><circle cx="1324.2" cy="892.7" r="4.3"/><circle cx="1336.4" cy="912.2" r="4.3"/><circle cx="1296.3" cy="849.5" r="4.3"/><circle cx="1285.2" cy="870.3" r="4.3"/><circle cx="1401.1" cy="792.8" r="4.3"/><circle cx="1307.4" cy="893.9" r="4.3"/><circle cx="1313.0" cy="845.1" r="4.3"/><circle cx="1299.0" cy="885.4" r="4.3"/><circle cx="1353.7" cy="915.3" r="4.3"/><circle cx="1341.6" cy="917.5" r="4.3"/><circle cx="1391.9" cy="787.3" r="4.3"/><circle cx="1301.7" cy="823.6" r="4.3"/><circle cx="1339.5" cy="916.4" r="4.3"/><circle cx="1388.6" cy="812.5" r="4.3"/><circle cx="1387.2" cy="880.1" r="4.3"/><circle cx="1342.9" cy="920.5" r="4.3"/><circle cx="1354.8" cy="903.7" r="4.3"/><circle cx="1349.3" cy="909.1" r="4.3"/><circle cx="1297.0" cy="893.2" r="4.3"/><circle cx="1343.2" cy="920.5" r="4.3"/><circle cx="1434.5" cy="834.2" r="4.3"/><circle cx="1424.2" cy="779.1" r="4.3"/><circle cx="1361.9" cy="906.9" r="4.3"/><circle cx="1322.8" cy="896.2" r="4.3"/><circle cx="1282.2" cy="876.9" r="4.3"/><circle cx="1385.5" cy="889.0" r="4.3"/><circle cx="1462.4" cy="765.1" r="4.3"/><circle cx="1345.0" cy="918.9" r="4.3"/><circle cx="1330.4" cy="908.4" r="4.3"/><circle cx="1344.0" cy="919.8" r="4.3"/><circle cx="1394.3" cy="788.5" r="4.3"/><circle cx="1375.5" cy="881.8" r="4.3"/><circle cx="1245.2" cy="810.1" r="4.3"/><circle cx="1302.3" cy="845.4" r="4.3"/><circle cx="1406.4" cy="754.0" r="4.3"/><circle cx="1342.4" cy="919.8" r="4.3"/><circle cx="1361.1" cy="907.5" r="4.3"/><circle cx="1381.6" cy="864.0" r="4.3"/><circle cx="1358.3" cy="898.4" r="4.3"/><circle cx="1347.6" cy="909.5" r="4.3"/><circle cx="1305.9" cy="868.7" r="4.3"/><circle cx="1296.2" cy="870.6" r="4.3"/><circle cx="1366.0" cy="897.9" r="4.3"/><circle cx="1411.3" cy="865.1" r="4.3"/><circle cx="1306.4" cy="888.2" r="4.3"/><circle cx="1332.3" cy="908.6" r="4.3"/><circle cx="1323.3" cy="896.5" r="4.3"/><circle cx="1339.3" cy="918.1" r="4.3"/><circle cx="1335.6" cy="916.1" r="4.3"/><circle cx="1274.8" cy="793.7" r="4.3"/><circle cx="1442.7" cy="773.0" r="4.3"/><circle cx="1323.7" cy="891.2" r="4.3"/><circle cx="1371.9" cy="899.6" r="4.3"/><circle cx="1337.8" cy="914.1" r="4.3"/><circle cx="1364.0" cy="883.6" r="4.3"/><circle cx="1357.2" cy="901.4" r="4.3"/><circle cx="1388.3" cy="885.9" r="4.3"/><circle cx="1286.8" cy="882.8" r="4.3"/><circle cx="1332.6" cy="914.3" r="4.3"/><circle cx="1355.4" cy="904.5" r="4.3"/><circle cx="1396.1" cy="883.7" r="4.3"/><circle cx="1334.3" cy="914.3" r="4.3"/><circle cx="1309.3" cy="889.0" r="4.3"/><circle cx="1304.5" cy="859.6" r="4.3"/><circle cx="1360.2" cy="899.3" r="4.3"/><circle cx="1309.0" cy="894.5" r="4.3"/><circle cx="1319.3" cy="896.2" r="4.3"/><circle cx="1311.6" cy="862.5" r="4.3"/><circle cx="1372.5" cy="884.7" r="4.3"/><circle cx="1352.8" cy="913.2" r="4.3"/><circle cx="1421.7" cy="857.1" r="4.3"/><circle cx="1367.6" cy="880.8" r="4.3"/><circle cx="1317.8" cy="885.0" r="4.3"/><circle cx="1322.4" cy="903.5" r="4.3"/><circle cx="1308.6" cy="899.1" r="4.3"/><circle cx="1354.2" cy="908.8" r="4.3"/><circle cx="1372.6" cy="883.2" r="4.3"/><circle cx="1318.1" cy="763.0" r="4.3"/><circle cx="1325.3" cy="862.6" r="4.3"/><circle cx="1387.4" cy="803.5" r="4.3"/><circle cx="1250.2" cy="817.1" r="4.3"/><circle cx="1377.9" cy="882.2" r="4.3"/><circle cx="1342.6" cy="920.1" r="4.3"/><circle cx="1335.3" cy="890.1" r="4.3"/><circle cx="1357.9" cy="911.5" r="4.3"/><circle cx="1378.1" cy="869.0" r="4.3"/><circle cx="1249.3" cy="830.9" r="4.3"/><circle cx="1334.4" cy="914.6" r="4.3"/><circle cx="1340.1" cy="917.9" r="4.3"/><circle cx="1314.1" cy="902.6" r="4.3"/><circle cx="1352.2" cy="909.6" r="4.3"/><circle cx="1346.5" cy="909.1" r="4.3"/><circle cx="1421.9" cy="753.2" r="4.3"/><circle cx="1343.7" cy="920.3" r="4.3"/><circle cx="1393.7" cy="841.9" r="4.3"/><circle cx="1294.2" cy="833.8" r="4.3"/><circle cx="1276.3" cy="881.4" r="4.3"/><circle cx="1370.7" cy="897.4" r="4.3"/><circle cx="1319.0" cy="896.2" r="4.3"/><circle cx="1274.6" cy="870.0" r="4.3"/><circle cx="1259.6" cy="828.2" r="4.3"/><circle cx="1385.1" cy="832.7" r="4.3"/><circle cx="1382.6" cy="892.4" r="4.3"/><circle cx="1328.8" cy="900.1" r="4.3"/><circle cx="1297.6" cy="868.3" r="4.3"/><circle cx="1383.9" cy="869.4" r="4.3"/><circle cx="1362.6" cy="886.6" r="4.3"/><circle cx="1346.0" cy="917.3" r="4.3"/><circle cx="1345.5" cy="915.6" r="4.3"/><circle cx="1345.2" cy="917.2" r="4.3"/><circle cx="1252.5" cy="835.8" r="4.3"/><circle cx="1353.2" cy="907.2" r="4.3"/><circle cx="1372.9" cy="853.3" r="4.3"/><circle cx="1357.2" cy="903.4" r="4.3"/><circle cx="1374.7" cy="880.3" r="4.3"/><circle cx="1317.8" cy="843.9" r="4.3"/><circle cx="1328.9" cy="896.7" r="4.3"/><circle cx="1312.9" cy="892.2" r="4.3"/><circle cx="1329.0" cy="902.4" r="4.3"/><circle cx="1313.1" cy="904.6" r="4.3"/><circle cx="1395.6" cy="887.1" r="4.3"/><circle cx="1285.0" cy="779.0" r="4.3"/><circle cx="1301.2" cy="868.3" r="4.3"/><circle cx="1369.7" cy="899.8" r="4.3"/><circle cx="1332.2" cy="904.9" r="4.3"/><circle cx="1324.9" cy="892.1" r="4.3"/><circle cx="1484.8" cy="796.7" r="4.3"/><circle cx="1416.9" cy="843.9" r="4.3"/><circle cx="1303.7" cy="782.8" r="4.3"/><circle cx="1287.4" cy="807.8" r="4.3"/><circle cx="1342.3" cy="919.6" r="4.3"/><circle cx="1350.7" cy="911.7" r="4.3"/><circle cx="1325.6" cy="888.4" r="4.3"/><circle cx="1352.7" cy="915.4" r="4.3"/><circle cx="1364.1" cy="873.2" r="4.3"/><circle cx="1390.3" cy="783.9" r="4.3"/><circle cx="1308.5" cy="883.4" r="4.3"/><circle cx="1359.4" cy="832.6" r="4.3"/><circle cx="1245.7" cy="826.3" r="4.3"/><circle cx="1382.6" cy="896.7" r="4.3"/><circle cx="1328.8" cy="908.7" r="4.3"/><circle cx="1342.4" cy="919.9" r="4.3"/><circle cx="1338.1" cy="916.1" r="4.3"/><circle cx="1301.1" cy="833.1" r="4.3"/><circle cx="1229.1" cy="777.4" r="4.3"/><circle cx="1294.9" cy="847.5" r="4.3"/><circle cx="1324.5" cy="905.6" r="4.3"/><circle cx="1334.8" cy="909.6" r="4.3"/><circle cx="1312.7" cy="882.5" r="4.3"/><circle cx="1374.4" cy="883.8" r="4.3"/><circle cx="1367.8" cy="844.3" r="4.3"/><circle cx="1330.5" cy="896.8" r="4.3"/><circle cx="1343.7" cy="919.6" r="4.3"/><circle cx="1331.9" cy="890.0" r="4.3"/><circle cx="1350.6" cy="908.9" r="4.3"/><circle cx="1352.9" cy="914.9" r="4.3"/><circle cx="1351.1" cy="912.3" r="4.3"/><circle cx="1330.0" cy="898.0" r="4.3"/><circle cx="1223.1" cy="789.5" r="4.3"/><circle cx="1329.3" cy="902.4" r="4.3"/><circle cx="1387.5" cy="886.5" r="4.3"/><circle cx="1364.2" cy="903.8" r="4.3"/><circle cx="1350.0" cy="908.7" r="4.3"/><circle cx="1259.4" cy="867.6" r="4.3"/><circle cx="1389.5" cy="844.2" r="4.3"/><circle cx="1355.2" cy="914.2" r="4.3"/><circle cx="1319.1" cy="882.0" r="4.3"/><circle cx="1296.3" cy="856.1" r="4.3"/><circle cx="1384.2" cy="888.4" r="4.3"/><circle cx="1229.3" cy="783.7" r="4.3"/><circle cx="1279.7" cy="839.0" r="4.3"/><circle cx="1343.2" cy="920.4" r="4.3"/><circle cx="1369.0" cy="848.7" r="4.3"/><circle cx="1352.4" cy="910.2" r="4.3"/><circle cx="1218.9" cy="763.2" r="4.3"/><circle cx="1314.5" cy="755.9" r="4.3"/><circle cx="1368.4" cy="889.7" r="4.3"/><circle cx="1325.8" cy="911.3" r="4.3"/><circle cx="1298.0" cy="857.7" r="4.3"/><circle cx="1312.4" cy="884.8" r="4.3"/><circle cx="1437.3" cy="781.8" r="4.3"/><circle cx="1348.4" cy="911.0" r="4.3"/><circle cx="1367.5" cy="900.3" r="4.3"/><circle cx="1315.6" cy="896.3" r="4.3"/><circle cx="1359.9" cy="887.0" r="4.3"/><circle cx="1274.8" cy="792.9" r="4.3"/><circle cx="1343.0" cy="920.3" r="4.3"/><circle cx="1312.5" cy="893.3" r="4.3"/><circle cx="1409.4" cy="850.3" r="4.3"/><circle cx="1405.8" cy="867.3" r="4.3"/><circle cx="1329.4" cy="898.5" r="4.3"/><circle cx="1386.0" cy="889.2" r="4.3"/><circle cx="1328.6" cy="906.1" r="4.3"/><circle cx="1345.5" cy="918.9" r="4.3"/><circle cx="1289.5" cy="843.3" r="4.3"/><circle cx="1270.2" cy="832.6" r="4.3"/><circle cx="1370.7" cy="832.7" r="4.3"/><circle cx="1353.9" cy="909.9" r="4.3"/><circle cx="1362.7" cy="880.6" r="4.3"/><circle cx="1376.7" cy="803.4" r="4.3"/><circle cx="1444.8" cy="792.0" r="4.3"/><circle cx="1331.2" cy="898.3" r="4.3"/><circle cx="1331.2" cy="894.9" r="4.3"/><circle cx="1332.4" cy="897.1" r="4.3"/><circle cx="1383.9" cy="852.8" r="4.3"/><circle cx="1273.3" cy="855.6" r="4.3"/><circle cx="1322.5" cy="884.4" r="4.3"/><circle cx="1238.1" cy="804.5" r="4.3"/><circle cx="1307.1" cy="820.6" r="4.3"/><circle cx="1373.1" cy="881.9" r="4.3"/><circle cx="1441.6" cy="766.4" r="4.3"/><circle cx="1248.1" cy="783.4" r="4.3"/><circle cx="1332.7" cy="908.9" r="4.3"/><circle cx="1408.1" cy="877.2" r="4.3"/><circle cx="1343.5" cy="920.0" r="4.3"/><circle cx="1326.0" cy="890.2" r="4.3"/><circle cx="1382.7" cy="855.2" r="4.3"/><circle cx="1405.2" cy="806.0" r="4.3"/><circle cx="1344.7" cy="914.7" r="4.3"/><circle cx="1294.4" cy="864.7" r="4.3"/><circle cx="1346.1" cy="915.5" r="4.3"/><circle cx="1310.6" cy="863.6" r="4.3"/><circle cx="1387.9" cy="890.7" r="4.3"/><circle cx="1328.1" cy="911.9" r="4.3"/><circle cx="1294.7" cy="841.3" r="4.3"/><circle cx="1357.3" cy="894.8" r="4.3"/><circle cx="1312.3" cy="904.6" r="4.3"/><circle cx="1295.5" cy="876.5" r="4.3"/><circle cx="1279.4" cy="885.0" r="4.3"/><circle cx="1341.2" cy="917.3" r="4.3"/><circle cx="1252.8" cy="755.7" r="4.3"/><circle cx="1222.2" cy="826.3" r="4.3"/><circle cx="1471.2" cy="786.5" r="4.3"/><circle cx="1344.7" cy="915.1" r="4.3"/><circle cx="1435.9" cy="829.3" r="4.3"/><circle cx="1418.4" cy="836.7" r="4.3"/><circle cx="1373.1" cy="879.7" r="4.3"/><circle cx="1359.2" cy="897.1" r="4.3"/><circle cx="1398.7" cy="862.7" r="4.3"/><circle cx="1319.8" cy="906.1" r="4.3"/><circle cx="1375.5" cy="893.8" r="4.3"/><circle cx="1346.0" cy="913.4" r="4.3"/><circle cx="1383.1" cy="870.9" r="4.3"/><circle cx="1358.7" cy="911.6" r="4.3"/><circle cx="1340.6" cy="918.3" r="4.3"/><circle cx="1401.4" cy="768.6" r="4.3"/><circle cx="1392.2" cy="787.1" r="4.3"/><circle cx="1352.1" cy="911.4" r="4.3"/><circle cx="1343.7" cy="920.2" r="4.3"/><circle cx="1335.9" cy="915.5" r="4.3"/><circle cx="1359.5" cy="905.8" r="4.3"/><circle cx="1298.4" cy="888.5" r="4.3"/><circle cx="1336.9" cy="900.6" r="4.3"/><circle cx="1359.7" cy="908.7" r="4.3"/><circle cx="1319.9" cy="898.3" r="4.3"/><circle cx="1303.2" cy="858.5" r="4.3"/><circle cx="1269.3" cy="805.3" r="4.3"/><circle cx="1387.8" cy="804.4" r="4.3"/><circle cx="1409.4" cy="876.9" r="4.3"/><circle cx="1395.6" cy="789.3" r="4.3"/><circle cx="1368.4" cy="828.7" r="4.3"/><circle cx="1354.2" cy="907.3" r="4.3"/><circle cx="1411.3" cy="810.9" r="4.3"/><circle cx="1340.5" cy="914.8" r="4.3"/><circle cx="1365.3" cy="890.0" r="4.3"/><circle cx="1275.5" cy="826.7" r="4.3"/><circle cx="1375.3" cy="848.2" r="4.3"/><circle cx="1461.5" cy="765.3" r="4.3"/><circle cx="1369.1" cy="905.2" r="4.3"/><circle cx="1346.1" cy="914.4" r="4.3"/><circle cx="1360.5" cy="907.2" r="4.3"/><circle cx="1306.0" cy="840.8" r="4.3"/><circle cx="1343.0" cy="920.5" r="4.3"/><circle cx="1259.2" cy="778.1" r="4.3"/><circle cx="1315.4" cy="871.9" r="4.3"/><circle cx="1316.4" cy="864.1" r="4.3"/><circle cx="1334.3" cy="912.4" r="4.3"/><circle cx="1244.5" cy="827.5" r="4.3"/><circle cx="1323.6" cy="906.1" r="4.3"/><circle cx="1371.9" cy="844.4" r="4.3"/><circle cx="1335.6" cy="872.4" r="4.3"/><circle cx="1299.3" cy="892.5" r="4.3"/><circle cx="1275.7" cy="860.3" r="4.3"/><circle cx="1334.4" cy="908.4" r="4.3"/><circle cx="1360.5" cy="893.2" r="4.3"/><circle cx="1339.3" cy="917.6" r="4.3"/><circle cx="1401.0" cy="832.2" r="4.3"/><circle cx="1389.5" cy="876.6" r="4.3"/><circle cx="1400.3" cy="847.7" r="4.3"/><circle cx="1323.5" cy="857.4" r="4.3"/><circle cx="1339.8" cy="911.1" r="4.3"/><circle cx="1288.9" cy="863.3" r="4.3"/><circle cx="1351.9" cy="890.0" r="4.3"/><circle cx="1225.5" cy="758.7" r="4.3"/><circle cx="1340.1" cy="918.7" r="4.3"/><circle cx="1340.9" cy="919.0" r="4.3"/><circle cx="1294.7" cy="855.9" r="4.3"/><circle cx="1335.0" cy="906.9" r="4.3"/><circle cx="1335.7" cy="912.3" r="4.3"/><circle cx="1347.1" cy="917.2" r="4.3"/><circle cx="1276.9" cy="777.3" r="4.3"/><circle cx="1342.9" cy="920.5" r="4.3"/><circle cx="1318.7" cy="899.4" r="4.3"/><circle cx="1333.6" cy="912.1" r="4.3"/><circle cx="1362.4" cy="884.5" r="4.3"/><circle cx="1319.2" cy="890.5" r="4.3"/><circle cx="1369.6" cy="893.7" r="4.3"/><circle cx="1384.1" cy="893.4" r="4.3"/><circle cx="1303.0" cy="875.4" r="4.3"/><circle cx="1316.1" cy="886.6" r="4.3"/><circle cx="1352.8" cy="904.2" r="4.3"/><circle cx="1341.8" cy="918.3" r="4.3"/><circle cx="1350.0" cy="913.2" r="4.3"/><circle cx="1251.9" cy="845.9" r="4.3"/><circle cx="1316.6" cy="884.3" r="4.3"/><circle cx="1289.0" cy="880.1" r="4.3"/><circle cx="1375.3" cy="898.9" r="4.3"/><circle cx="1364.8" cy="900.2" r="4.3"/><circle cx="1319.5" cy="907.4" r="4.3"/><circle cx="1280.9" cy="834.1" r="4.3"/><circle cx="1329.1" cy="911.4" r="4.3"/><circle cx="1362.6" cy="903.0" r="4.3"/><circle cx="1449.3" cy="784.5" r="4.3"/><circle cx="1343.9" cy="920.2" r="4.3"/><circle cx="1353.4" cy="903.3" r="4.3"/><circle cx="1391.2" cy="879.3" r="4.3"/><circle cx="1322.2" cy="893.5" r="4.3"/><circle cx="1267.2" cy="794.8" r="4.3"/><circle cx="1394.1" cy="822.8" r="4.3"/><circle cx="1422.9" cy="831.0" r="4.3"/><circle cx="1295.6" cy="832.1" r="4.3"/><circle cx="1403.8" cy="779.4" r="4.3"/><circle cx="1323.2" cy="907.9" r="4.3"/><circle cx="1336.6" cy="910.2" r="4.3"/><circle cx="1300.7" cy="844.1" r="4.3"/><circle cx="1294.9" cy="846.3" r="4.3"/><circle cx="1314.2" cy="875.2" r="4.3"/><circle cx="1431.9" cy="809.5" r="4.3"/><circle cx="1338.0" cy="906.0" r="4.3"/><circle cx="1373.9" cy="884.9" r="4.3"/><circle cx="1344.2" cy="919.6" r="4.3"/><circle cx="1294.7" cy="827.5" r="4.3"/><circle cx="1311.0" cy="898.7" r="4.3"/><circle cx="1343.8" cy="920.2" r="4.3"/><circle cx="1343.8" cy="920.1" r="4.3"/><circle cx="1323.4" cy="827.4" r="4.3"/><circle cx="1319.6" cy="853.3" r="4.3"/><circle cx="1343.3" cy="920.4" r="4.3"/><circle cx="1394.6" cy="751.0" r="4.3"/><circle cx="1406.1" cy="849.6" r="4.3"/><circle cx="1334.1" cy="912.6" r="4.3"/><circle cx="1495.4" cy="754.0" r="4.3"/><circle cx="1321.7" cy="896.8" r="4.3"/><circle cx="1273.7" cy="817.7" r="4.3"/><circle cx="1396.1" cy="814.2" r="4.3"/><circle cx="1444.7" cy="855.1" r="4.3"/><circle cx="1359.9" cy="895.3" r="4.3"/><circle cx="1340.9" cy="917.0" r="4.3"/><circle cx="1345.4" cy="919.3" r="4.3"/><circle cx="1252.1" cy="775.8" r="4.3"/><circle cx="1328.7" cy="890.7" r="4.3"/><circle cx="1433.2" cy="807.5" r="4.3"/><circle cx="1267.9" cy="828.7" r="4.3"/><circle cx="1213.7" cy="795.8" r="4.3"/><circle cx="1342.7" cy="920.3" r="4.3"/><circle cx="1354.1" cy="897.9" r="4.3"/><circle cx="1346.3" cy="917.3" r="4.3"/><circle cx="1410.7" cy="868.3" r="4.3"/><circle cx="1364.4" cy="891.6" r="4.3"/><circle cx="1358.3" cy="891.6" r="4.3"/><circle cx="1354.0" cy="901.5" r="4.3"/><circle cx="1343.6" cy="919.5" r="4.3"/><circle cx="1252.4" cy="810.7" r="4.3"/><circle cx="1265.1" cy="869.0" r="4.3"/><circle cx="1359.3" cy="909.3" r="4.3"/><circle cx="1334.2" cy="908.4" r="4.3"/><circle cx="1359.7" cy="899.5" r="4.3"/><circle cx="1353.7" cy="907.0" r="4.3"/><circle cx="1308.9" cy="892.7" r="4.3"/><circle cx="1313.2" cy="895.3" r="4.3"/><circle cx="1282.6" cy="844.2" r="4.3"/><circle cx="1361.8" cy="902.4" r="4.3"/><circle cx="1370.6" cy="903.8" r="4.3"/><circle cx="1279.6" cy="884.5" r="4.3"/><circle cx="1313.8" cy="780.3" r="4.3"/><circle cx="1285.3" cy="854.7" r="4.3"/><circle cx="1355.2" cy="901.4" r="4.3"/><circle cx="1318.1" cy="903.2" r="4.3"/><circle cx="1313.0" cy="868.5" r="4.3"/><circle cx="1359.3" cy="877.6" r="4.3"/><circle cx="1358.2" cy="912.2" r="4.3"/><circle cx="1445.6" cy="839.6" r="4.3"/><circle cx="1371.2" cy="887.3" r="4.3"/><circle cx="1438.8" cy="757.9" r="4.3"/><circle cx="1351.9" cy="913.2" r="4.3"/><circle cx="1322.7" cy="885.4" r="4.3"/><circle cx="1374.3" cy="855.6" r="4.3"/><circle cx="1325.1" cy="908.7" r="4.3"/><circle cx="1361.1" cy="900.5" r="4.3"/><circle cx="1359.6" cy="905.8" r="4.3"/><circle cx="1330.6" cy="910.9" r="4.3"/><circle cx="1449.2" cy="829.5" r="4.3"/><circle cx="1327.5" cy="907.3" r="4.3"/><circle cx="1379.5" cy="843.1" r="4.3"/><circle cx="1331.5" cy="905.0" r="4.3"/><circle cx="1339.3" cy="915.7" r="4.3"/><circle cx="1323.9" cy="905.1" r="4.3"/><circle cx="1265.2" cy="759.3" r="4.3"/><circle cx="1321.8" cy="896.3" r="4.3"/><circle cx="1409.7" cy="786.5" r="4.3"/><circle cx="1379.5" cy="841.4" r="4.3"/><circle cx="1320.2" cy="905.9" r="4.3"/><circle cx="1362.6" cy="891.8" r="4.3"/><circle cx="1385.3" cy="808.8" r="4.3"/><circle cx="1386.0" cy="853.4" r="4.3"/><circle cx="1290.0" cy="864.0" r="4.3"/><circle cx="1459.1" cy="829.6" r="4.3"/><circle cx="1315.4" cy="821.5" r="4.3"/><circle cx="1381.9" cy="801.6" r="4.3"/><circle cx="1357.5" cy="901.7" r="4.3"/><circle cx="1254.6" cy="809.0" r="4.3"/><circle cx="1439.5" cy="821.3" r="4.3"/><circle cx="1409.5" cy="769.8" r="4.3"/><circle cx="1307.8" cy="835.6" r="4.3"/><circle cx="1369.2" cy="857.9" r="4.3"/><circle cx="1405.6" cy="865.6" r="4.3"/><circle cx="1334.1" cy="912.8" r="4.3"/><circle cx="1374.3" cy="833.3" r="4.3"/><circle cx="1385.6" cy="845.7" r="4.3"/><circle cx="1268.7" cy="848.8" r="4.3"/><circle cx="1287.2" cy="876.1" r="4.3"/><circle cx="1338.7" cy="916.9" r="4.3"/><circle cx="1310.7" cy="871.9" r="4.3"/><circle cx="1359.8" cy="897.8" r="4.3"/><circle cx="1297.1" cy="845.3" r="4.3"/><circle cx="1356.5" cy="910.4" r="4.3"/><circle cx="1378.4" cy="891.9" r="4.3"/><circle cx="1332.4" cy="878.9" r="4.3"/><circle cx="1316.4" cy="807.1" r="4.3"/><circle cx="1351.1" cy="909.1" r="4.3"/><circle cx="1360.2" cy="904.7" r="4.3"/><circle cx="1352.0" cy="904.6" r="4.3"/><circle cx="1336.8" cy="912.5" r="4.3"/><circle cx="1318.3" cy="811.0" r="4.3"/><circle cx="1371.6" cy="894.7" r="4.3"/><circle cx="1358.4" cy="906.4" r="4.3"/><circle cx="1250.5" cy="839.6" r="4.3"/><circle cx="1318.6" cy="835.2" r="4.3"/><circle cx="1290.9" cy="863.8" r="4.3"/><circle cx="1342.6" cy="919.5" r="4.3"/><circle cx="1330.1" cy="904.4" r="4.3"/><circle cx="1288.4" cy="775.2" r="4.3"/><circle cx="1346.0" cy="918.1" r="4.3"/><circle cx="1361.3" cy="883.0" r="4.3"/><circle cx="1324.8" cy="900.8" r="4.3"/><circle cx="1267.1" cy="827.5" r="4.3"/><circle cx="1240.0" cy="814.1" r="4.3"/><circle cx="1368.6" cy="888.7" r="4.3"/><circle cx="1349.5" cy="911.3" r="4.3"/><circle cx="1376.4" cy="887.4" r="4.3"/><circle cx="1440.1" cy="834.1" r="4.3"/><circle cx="1344.1" cy="919.8" r="4.3"/><circle cx="1391.0" cy="846.3" r="4.3"/><circle cx="1359.8" cy="889.8" r="4.3"/><circle cx="1344.4" cy="918.8" r="4.3"/><circle cx="1343.4" cy="920.2" r="4.3"/><circle cx="1325.5" cy="903.1" r="4.3"/><circle cx="1335.3" cy="915.4" r="4.3"/><circle cx="1340.6" cy="918.3" r="4.3"/><circle cx="1358.7" cy="894.8" r="4.3"/><circle cx="1242.8" cy="753.4" r="4.3"/><circle cx="1360.3" cy="905.4" r="4.3"/><circle cx="1329.9" cy="908.2" r="4.3"/><circle cx="1337.2" cy="911.4" r="4.3"/><circle cx="1349.8" cy="911.3" r="4.3"/><circle cx="1350.4" cy="913.7" r="4.3"/><circle cx="1354.1" cy="905.9" r="4.3"/><circle cx="1323.1" cy="893.0" r="4.3"/><circle cx="1373.9" cy="835.0" r="4.3"/><circle cx="1334.4" cy="915.7" r="4.3"/><circle cx="1393.4" cy="892.2" r="4.3"/><circle cx="1347.4" cy="914.0" r="4.3"/><circle cx="1350.2" cy="911.7" r="4.3"/><circle cx="1363.8" cy="908.4" r="4.3"/><circle cx="1300.9" cy="802.4" r="4.3"/><circle cx="1285.7" cy="879.7" r="4.3"/><circle cx="1340.5" cy="915.4" r="4.3"/><circle cx="1411.8" cy="836.7" r="4.3"/><circle cx="1340.5" cy="917.8" r="4.3"/><circle cx="1309.4" cy="890.8" r="4.3"/><circle cx="1317.5" cy="899.3" r="4.3"/><circle cx="1335.0" cy="914.7" r="4.3"/><circle cx="1319.9" cy="903.7" r="4.3"/><circle cx="1340.2" cy="915.8" r="4.3"/><circle cx="1334.0" cy="880.3" r="4.3"/><circle cx="1256.6" cy="819.6" r="4.3"/><circle cx="1408.8" cy="770.9" r="4.3"/><circle cx="1349.4" cy="904.9" r="4.3"/><circle cx="1263.6" cy="823.2" r="4.3"/><circle cx="1327.8" cy="890.0" r="4.3"/><circle cx="1330.2" cy="905.9" r="4.3"/><circle cx="1311.0" cy="886.6" r="4.3"/><circle cx="1436.0" cy="764.0" r="4.3"/><circle cx="1366.1" cy="904.6" r="4.3"/><circle cx="1318.9" cy="872.0" r="4.3"/><circle cx="1328.6" cy="900.4" r="4.3"/><circle cx="1335.1" cy="907.8" r="4.3"/><circle cx="1330.1" cy="907.0" r="4.3"/><circle cx="1363.2" cy="902.4" r="4.3"/><circle cx="1452.3" cy="817.0" r="4.3"/><circle cx="1399.8" cy="834.4" r="4.3"/><circle cx="1400.2" cy="835.7" r="4.3"/><circle cx="1303.7" cy="756.1" r="4.3"/><circle cx="1492.3" cy="751.3" r="4.3"/><circle cx="1409.5" cy="845.7" r="4.3"/><circle cx="1371.1" cy="876.4" r="4.3"/><circle cx="1269.6" cy="878.4" r="4.3"/><circle cx="1337.8" cy="902.8" r="4.3"/><circle cx="1377.5" cy="889.6" r="4.3"/><circle cx="1348.5" cy="906.7" r="4.3"/><circle cx="1378.8" cy="869.9" r="4.3"/><circle cx="1333.6" cy="914.2" r="4.3"/><circle cx="1304.0" cy="803.6" r="4.3"/><circle cx="1325.7" cy="882.0" r="4.3"/><circle cx="1327.6" cy="903.8" r="4.3"/><circle cx="1281.3" cy="881.3" r="4.3"/><circle cx="1324.5" cy="903.0" r="4.3"/><circle cx="1318.9" cy="789.9" r="4.3"/><circle cx="1339.0" cy="914.8" r="4.3"/><circle cx="1324.6" cy="872.4" r="4.3"/><circle cx="1414.1" cy="817.8" r="4.3"/><circle cx="1331.5" cy="903.0" r="4.3"/><circle cx="1323.9" cy="899.4" r="4.3"/><circle cx="1256.1" cy="780.5" r="4.3"/><circle cx="1395.4" cy="805.9" r="4.3"/><circle cx="1374.7" cy="859.6" r="4.3"/><circle cx="1303.4" cy="823.7" r="4.3"/><circle cx="1321.4" cy="897.8" r="4.3"/><circle cx="1349.6" cy="913.0" r="4.3"/><circle cx="1406.9" cy="859.7" r="4.3"/><circle cx="1402.1" cy="825.7" r="4.3"/><circle cx="1341.8" cy="919.5" r="4.3"/><circle cx="1349.9" cy="909.0" r="4.3"/><circle cx="1387.5" cy="800.8" r="4.3"/><circle cx="1287.3" cy="885.6" r="4.3"/><circle cx="1405.0" cy="844.0" r="4.3"/><circle cx="1306.8" cy="898.3" r="4.3"/><circle cx="1357.3" cy="903.9" r="4.3"/><circle cx="1372.8" cy="874.8" r="4.3"/><circle cx="1359.7" cy="910.8" r="4.3"/><circle cx="1250.9" cy="814.5" r="4.3"/><circle cx="1304.6" cy="803.5" r="4.3"/><circle cx="1268.6" cy="780.0" r="4.3"/><circle cx="1341.6" cy="916.3" r="4.3"/><circle cx="1373.7" cy="850.9" r="4.3"/><circle cx="1350.9" cy="903.2" r="4.3"/><circle cx="1422.7" cy="829.0" r="4.3"/><circle cx="1342.1" cy="920.0" r="4.3"/><circle cx="1338.0" cy="912.4" r="4.3"/><circle cx="1277.9" cy="795.1" r="4.3"/><circle cx="1363.2" cy="858.7" r="4.3"/><circle cx="1440.1" cy="825.3" r="4.3"/><circle cx="1258.7" cy="834.2" r="4.3"/><circle cx="1354.1" cy="912.4" r="4.3"/><circle cx="1341.8" cy="919.1" r="4.3"/><circle cx="1228.0" cy="831.5" r="4.3"/><circle cx="1361.3" cy="908.1" r="4.3"/><circle cx="1355.0" cy="913.4" r="4.3"/><circle cx="1329.1" cy="912.1" r="4.3"/><circle cx="1277.2" cy="880.2" r="4.3"/><circle cx="1365.2" cy="851.2" r="4.3"/><circle cx="1231.4" cy="785.5" r="4.3"/><circle cx="1324.3" cy="904.3" r="4.3"/><circle cx="1319.9" cy="903.8" r="4.3"/><circle cx="1309.9" cy="876.6" r="4.3"/><circle cx="1356.0" cy="902.8" r="4.3"/><circle cx="1364.9" cy="864.9" r="4.3"/><circle cx="1368.7" cy="900.7" r="4.3"/><circle cx="1333.7" cy="908.3" r="4.3"/><circle cx="1376.9" cy="821.0" r="4.3"/><circle cx="1361.5" cy="885.5" r="4.3"/><circle cx="1346.4" cy="913.1" r="4.3"/><circle cx="1382.0" cy="873.9" r="4.3"/><circle cx="1341.2" cy="918.8" r="4.3"/><circle cx="1356.6" cy="890.7" r="4.3"/><circle cx="1330.8" cy="913.9" r="4.3"/><circle cx="1340.8" cy="917.9" r="4.3"/><circle cx="1360.8" cy="903.6" r="4.3"/><circle cx="1321.1" cy="897.4" r="4.3"/><circle cx="1432.2" cy="765.7" r="4.3"/><circle cx="1330.7" cy="912.1" r="4.3"/><circle cx="1356.8" cy="909.8" r="4.3"/><circle cx="1403.6" cy="852.6" r="4.3"/><circle cx="1394.3" cy="838.2" r="4.3"/><circle cx="1363.4" cy="907.8" r="4.3"/><circle cx="1369.7" cy="845.4" r="4.3"/><circle cx="1377.4" cy="876.3" r="4.3"/><circle cx="1352.2" cy="884.8" r="4.3"/><circle cx="1336.2" cy="903.9" r="4.3"/><circle cx="1419.0" cy="841.8" r="4.3"/><circle cx="1288.9" cy="870.0" r="4.3"/><circle cx="1278.4" cy="852.4" r="4.3"/><circle cx="1320.7" cy="888.6" r="4.3"/><circle cx="1307.0" cy="846.7" r="4.3"/><circle cx="1346.1" cy="916.6" r="4.3"/><circle cx="1412.9" cy="877.8" r="4.3"/><circle cx="1348.3" cy="915.4" r="4.3"/><circle cx="1303.3" cy="884.9" r="4.3"/><circle cx="1409.1" cy="784.9" r="4.3"/><circle cx="1276.5" cy="848.3" r="4.3"/><circle cx="1379.3" cy="868.4" r="4.3"/><circle cx="1350.1" cy="895.6" r="4.3"/><circle cx="1294.2" cy="893.9" r="4.3"/><circle cx="1324.3" cy="899.5" r="4.3"/><circle cx="1373.1" cy="875.8" r="4.3"/><circle cx="1296.2" cy="805.7" r="4.3"/><circle cx="1354.6" cy="898.2" r="4.3"/><circle cx="1346.3" cy="918.7" r="4.3"/><circle cx="1346.1" cy="914.9" r="4.3"/><circle cx="1295.0" cy="863.2" r="4.3"/><circle cx="1393.1" cy="880.0" r="4.3"/><circle cx="1347.1" cy="902.1" r="4.3"/><circle cx="1365.7" cy="903.5" r="4.3"/><circle cx="1357.1" cy="904.9" r="4.3"/><circle cx="1321.8" cy="887.8" r="4.3"/><circle cx="1373.6" cy="900.6" r="4.3"/><circle cx="1332.1" cy="914.5" r="4.3"/><circle cx="1338.9" cy="917.6" r="4.3"/><circle cx="1298.1" cy="857.6" r="4.3"/><circle cx="1339.6" cy="910.4" r="4.3"/><circle cx="1331.7" cy="896.4" r="4.3"/><circle cx="1454.1" cy="828.8" r="4.3"/><circle cx="1320.0" cy="895.9" r="4.3"/><circle cx="1415.0" cy="860.5" r="4.3"/><circle cx="1280.5" cy="775.2" r="4.3"/><circle cx="1317.9" cy="900.5" r="4.3"/><circle cx="1374.4" cy="891.0" r="4.3"/><circle cx="1353.9" cy="885.3" r="4.3"/><circle cx="1334.3" cy="914.5" r="4.3"/><circle cx="1334.0" cy="905.3" r="4.3"/><circle cx="1397.8" cy="876.8" r="4.3"/><circle cx="1303.3" cy="887.2" r="4.3"/><circle cx="1383.8" cy="890.5" r="4.3"/><circle cx="1329.1" cy="913.1" r="4.3"/><circle cx="1366.2" cy="904.2" r="4.3"/><circle cx="1390.9" cy="785.8" r="4.3"/><circle cx="1335.8" cy="905.7" r="4.3"/><circle cx="1298.1" cy="893.6" r="4.3"/><circle cx="1308.2" cy="890.6" r="4.3"/><circle cx="1309.4" cy="790.0" r="4.3"/><circle cx="1335.6" cy="916.1" r="4.3"/><circle cx="1359.3" cy="895.6" r="4.3"/><circle cx="1330.9" cy="912.9" r="4.3"/><circle cx="1443.7" cy="798.0" r="4.3"/><circle cx="1385.2" cy="809.7" r="4.3"/><circle cx="1320.7" cy="907.8" r="4.3"/><circle cx="1377.7" cy="897.8" r="4.3"/><circle cx="1248.1" cy="827.4" r="4.3"/><circle cx="1321.4" cy="907.5" r="4.3"/><circle cx="1371.9" cy="881.5" r="4.3"/><circle cx="1330.4" cy="892.0" r="4.3"/><circle cx="1353.2" cy="911.8" r="4.3"/><circle cx="1399.3" cy="882.2" r="4.3"/><circle cx="1349.5" cy="908.1" r="4.3"/><circle cx="1309.2" cy="889.2" r="4.3"/><circle cx="1343.7" cy="920.3" r="4.3"/><circle cx="1388.2" cy="892.4" r="4.3"/><circle cx="1356.1" cy="910.1" r="4.3"/><circle cx="1294.4" cy="890.7" r="4.3"/><circle cx="1313.7" cy="882.0" r="4.3"/><circle cx="1346.4" cy="913.4" r="4.3"/><circle cx="1285.5" cy="837.5" r="4.3"/><circle cx="1356.1" cy="909.5" r="4.3"/><circle cx="1321.0" cy="902.5" r="4.3"/><circle cx="1384.3" cy="897.7" r="4.3"/><circle cx="1346.1" cy="919.0" r="4.3"/><circle cx="1311.3" cy="885.9" r="4.3"/><circle cx="1350.2" cy="916.0" r="4.3"/><circle cx="1413.8" cy="811.4" r="4.3"/><circle cx="1438.9" cy="810.0" r="4.3"/><circle cx="1352.7" cy="904.3" r="4.3"/><circle cx="1316.2" cy="894.2" r="4.3"/><circle cx="1342.0" cy="919.8" r="4.3"/><circle cx="1364.9" cy="826.4" r="4.3"/><circle cx="1353.0" cy="911.4" r="4.3"/><circle cx="1356.3" cy="909.2" r="4.3"/><circle cx="1405.3" cy="854.0" r="4.3"/><circle cx="1289.5" cy="814.9" r="4.3"/><circle cx="1337.5" cy="917.3" r="4.3"/><circle cx="1337.4" cy="917.1" r="4.3"/><circle cx="1327.1" cy="908.1" r="4.3"/><circle cx="1420.0" cy="822.0" r="4.3"/><circle cx="1445.1" cy="763.8" r="4.3"/><circle cx="1380.7" cy="866.5" r="4.3"/><circle cx="1421.9" cy="763.1" r="4.3"/><circle cx="1341.6" cy="919.5" r="4.3"/><circle cx="1327.4" cy="790.4" r="4.3"/><circle cx="1336.8" cy="916.6" r="4.3"/><circle cx="1303.3" cy="831.2" r="4.3"/><circle cx="1371.6" cy="839.0" r="4.3"/><circle cx="1355.1" cy="914.6" r="4.3"/><circle cx="1441.2" cy="852.6" r="4.3"/><circle cx="1365.7" cy="891.3" r="4.3"/><circle cx="1310.2" cy="858.8" r="4.3"/><circle cx="1329.3" cy="902.6" r="4.3"/><circle cx="1343.1" cy="920.5" r="4.3"/><circle cx="1346.7" cy="916.1" r="4.3"/><circle cx="1357.8" cy="909.0" r="4.3"/><circle cx="1322.7" cy="885.7" r="4.3"/><circle cx="1314.6" cy="788.8" r="4.3"/><circle cx="1350.9" cy="900.5" r="4.3"/><circle cx="1258.8" cy="795.3" r="4.3"/><circle cx="1338.9" cy="912.1" r="4.3"/><circle cx="1429.1" cy="809.2" r="4.3"/><circle cx="1349.2" cy="915.8" r="4.3"/><circle cx="1347.5" cy="914.1" r="4.3"/><circle cx="1323.5" cy="887.7" r="4.3"/><circle cx="1352.4" cy="913.2" r="4.3"/><circle cx="1338.8" cy="914.7" r="4.3"/><circle cx="1359.9" cy="890.6" r="4.3"/><circle cx="1455.8" cy="787.6" r="4.3"/><circle cx="1377.0" cy="852.8" r="4.3"/><circle cx="1281.5" cy="852.5" r="4.3"/><circle cx="1292.3" cy="758.0" r="4.3"/><circle cx="1365.9" cy="816.7" r="4.3"/><circle cx="1353.5" cy="908.3" r="4.3"/><circle cx="1396.7" cy="877.1" r="4.3"/><circle cx="1315.2" cy="865.0" r="4.3"/><circle cx="1308.7" cy="888.3" r="4.3"/><circle cx="1410.0" cy="876.9" r="4.3"/><circle cx="1338.0" cy="913.7" r="4.3"/><circle cx="1390.7" cy="882.0" r="4.3"/><circle cx="1359.1" cy="901.2" r="4.3"/><circle cx="1382.3" cy="874.6" r="4.3"/><circle cx="1352.3" cy="915.0" r="4.3"/><circle cx="1364.8" cy="826.9" r="4.3"/><circle cx="1335.9" cy="916.4" r="4.3"/><circle cx="1373.6" cy="804.4" r="4.3"/><circle cx="1223.7" cy="791.1" r="4.3"/><circle cx="1310.5" cy="863.0" r="4.3"/><circle cx="1327.1" cy="894.5" r="4.3"/><circle cx="1350.7" cy="912.9" r="4.3"/><circle cx="1338.6" cy="910.6" r="4.3"/><circle cx="1297.2" cy="891.3" r="4.3"/><circle cx="1319.6" cy="898.1" r="4.3"/><circle cx="1253.8" cy="780.7" r="4.3"/><circle cx="1293.7" cy="871.9" r="4.3"/><circle cx="1353.1" cy="910.3" r="4.3"/><circle cx="1235.1" cy="769.5" r="4.3"/><circle cx="1377.9" cy="829.8" r="4.3"/><circle cx="1258.9" cy="844.5" r="4.3"/><circle cx="1384.3" cy="793.8" r="4.3"/><circle cx="1276.1" cy="875.6" r="4.3"/><circle cx="1344.7" cy="916.8" r="4.3"/><circle cx="1302.7" cy="885.1" r="4.3"/><circle cx="1292.3" cy="868.3" r="4.3"/><circle cx="1346.3" cy="913.9" r="4.3"/><circle cx="1412.8" cy="837.3" r="4.3"/><circle cx="1301.3" cy="827.0" r="4.3"/><circle cx="1341.7" cy="916.2" r="4.3"/><circle cx="1327.8" cy="910.8" r="4.3"/><circle cx="1407.2" cy="867.2" r="4.3"/><circle cx="1347.2" cy="918.5" r="4.3"/><circle cx="1338.3" cy="918.1" r="4.3"/><circle cx="1378.6" cy="895.1" r="4.3"/><circle cx="1298.3" cy="815.1" r="4.3"/><circle cx="1345.7" cy="917.6" r="4.3"/><circle cx="1215.1" cy="802.2" r="4.3"/><circle cx="1345.4" cy="917.4" r="4.3"/><circle cx="1265.9" cy="767.0" r="4.3"/><circle cx="1350.6" cy="912.7" r="4.3"/><circle cx="1438.1" cy="827.8" r="4.3"/><circle cx="1348.8" cy="913.2" r="4.3"/><circle cx="1321.6" cy="902.3" r="4.3"/><circle cx="1302.2" cy="860.2" r="4.3"/><circle cx="1380.7" cy="850.2" r="4.3"/><circle cx="1324.0" cy="888.5" r="4.3"/><circle cx="1395.9" cy="861.0" r="4.3"/><circle cx="1217.2" cy="775.4" r="4.3"/><circle cx="1320.6" cy="881.1" r="4.3"/><circle cx="1432.8" cy="799.3" r="4.3"/><circle cx="1380.7" cy="892.4" r="4.3"/><circle cx="1341.6" cy="918.2" r="4.3"/><circle cx="1329.7" cy="875.3" r="4.3"/><circle cx="1298.3" cy="780.1" r="4.3"/><circle cx="1297.2" cy="798.7" r="4.3"/><circle cx="1243.1" cy="764.0" r="4.3"/><circle cx="1362.8" cy="910.0" r="4.3"/><circle cx="1427.1" cy="808.9" r="4.3"/><circle cx="1378.7" cy="899.3" r="4.3"/><circle cx="1379.4" cy="872.1" r="4.3"/><circle cx="1300.3" cy="889.0" r="4.3"/><circle cx="1345.1" cy="916.9" r="4.3"/><circle cx="1350.6" cy="916.1" r="4.3"/><circle cx="1279.9" cy="862.0" r="4.3"/><circle cx="1285.5" cy="799.1" r="4.3"/><circle cx="1367.9" cy="880.2" r="4.3"/><circle cx="1343.1" cy="920.5" r="4.3"/><circle cx="1383.3" cy="852.8" r="4.3"/><circle cx="1359.3" cy="892.4" r="4.3"/><circle cx="1338.2" cy="914.9" r="4.3"/><circle cx="1319.8" cy="876.5" r="4.3"/><circle cx="1295.2" cy="879.8" r="4.3"/><circle cx="1413.9" cy="873.9" r="4.3"/><circle cx="1258.5" cy="794.5" r="4.3"/><circle cx="1333.4" cy="914.1" r="4.3"/><circle cx="1404.1" cy="755.9" r="4.3"/><circle cx="1279.8" cy="842.8" r="4.3"/><circle cx="1259.6" cy="814.8" r="4.3"/><circle cx="1341.4" cy="919.0" r="4.3"/><circle cx="1365.1" cy="906.6" r="4.3"/><circle cx="1299.2" cy="876.9" r="4.3"/><circle cx="1335.4" cy="907.3" r="4.3"/><circle cx="1338.3" cy="914.8" r="4.3"/><circle cx="1319.4" cy="901.0" r="4.3"/><circle cx="1364.4" cy="897.9" r="4.3"/><circle cx="1346.9" cy="914.6" r="4.3"/><circle cx="1334.3" cy="915.0" r="4.3"/><circle cx="1380.3" cy="874.4" r="4.3"/><circle cx="1318.5" cy="905.9" r="4.3"/><circle cx="1354.0" cy="874.4" r="4.3"/><circle cx="1382.6" cy="859.3" r="4.3"/><circle cx="1324.6" cy="877.8" r="4.3"/><circle cx="1384.2" cy="881.2" r="4.3"/><circle cx="1390.1" cy="782.9" r="4.3"/><circle cx="1369.5" cy="819.1" r="4.3"/><circle cx="1311.3" cy="848.0" r="4.3"/><circle cx="1451.9" cy="820.7" r="4.3"/><circle cx="1349.0" cy="914.8" r="4.3"/><circle cx="1335.9" cy="916.4" r="4.3"/><circle cx="1475.1" cy="749.3" r="4.3"/><circle cx="1310.1" cy="882.9" r="4.3"/><circle cx="1370.9" cy="899.1" r="4.3"/><circle cx="1390.9" cy="841.4" r="4.3"/><circle cx="1401.1" cy="867.5" r="4.3"/><circle cx="1426.7" cy="869.1" r="4.3"/><circle cx="1376.5" cy="898.1" r="4.3"/><circle cx="1248.0" cy="820.5" r="4.3"/><circle cx="1319.6" cy="881.5" r="4.3"/><circle cx="1299.4" cy="882.8" r="4.3"/><circle cx="1358.3" cy="911.1" r="4.3"/><circle cx="1347.7" cy="916.7" r="4.3"/><circle cx="1307.8" cy="872.7" r="4.3"/><circle cx="1277.3" cy="794.7" r="4.3"/><circle cx="1299.3" cy="820.5" r="4.3"/><circle cx="1417.0" cy="850.4" r="4.3"/><circle cx="1355.5" cy="907.5" r="4.3"/><circle cx="1309.6" cy="852.9" r="4.3"/><circle cx="1350.9" cy="903.9" r="4.3"/><circle cx="1359.8" cy="892.1" r="4.3"/><circle cx="1323.6" cy="891.9" r="4.3"/><circle cx="1367.7" cy="882.5" r="4.3"/><circle cx="1351.5" cy="912.9" r="4.3"/><circle cx="1256.5" cy="756.7" r="4.3"/><circle cx="1343.2" cy="920.4" r="4.3"/><circle cx="1334.0" cy="905.6" r="4.3"/><circle cx="1373.1" cy="896.8" r="4.3"/><circle cx="1354.2" cy="908.6" r="4.3"/><circle cx="1323.4" cy="907.3" r="4.3"/><circle cx="1379.2" cy="851.6" r="4.3"/><circle cx="1310.6" cy="892.3" r="4.3"/><circle cx="1360.2" cy="884.6" r="4.3"/><circle cx="1317.6" cy="814.7" r="4.3"/><circle cx="1357.6" cy="882.8" r="4.3"/><circle cx="1350.8" cy="905.9" r="4.3"/><circle cx="1353.9" cy="896.6" r="4.3"/><circle cx="1399.1" cy="828.5" r="4.3"/><circle cx="1389.9" cy="893.5" r="4.3"/><circle cx="1305.3" cy="887.1" r="4.3"/><circle cx="1362.7" cy="885.2" r="4.3"/><circle cx="1285.2" cy="768.8" r="4.3"/><circle cx="1307.9" cy="890.2" r="4.3"/><circle cx="1338.3" cy="914.5" r="4.3"/><circle cx="1358.4" cy="902.0" r="4.3"/><circle cx="1414.3" cy="821.4" r="4.3"/><circle cx="1430.5" cy="803.7" r="4.3"/><circle cx="1408.2" cy="849.9" r="4.3"/><circle cx="1376.0" cy="847.1" r="4.3"/><circle cx="1286.8" cy="850.7" r="4.3"/><circle cx="1350.8" cy="908.7" r="4.3"/><circle cx="1337.9" cy="913.6" r="4.3"/><circle cx="1364.5" cy="896.3" r="4.3"/><circle cx="1316.8" cy="883.3" r="4.3"/><circle cx="1432.9" cy="786.2" r="4.3"/><circle cx="1316.0" cy="897.2" r="4.3"/><circle cx="1338.9" cy="908.6" r="4.3"/><circle cx="1292.1" cy="876.4" r="4.3"/><circle cx="1418.6" cy="864.6" r="4.3"/><circle cx="1452.7" cy="836.2" r="4.3"/><circle cx="1303.6" cy="845.2" r="4.3"/><circle cx="1323.8" cy="909.5" r="4.3"/><circle cx="1426.4" cy="787.8" r="4.3"/><circle cx="1411.1" cy="852.7" r="4.3"/><circle cx="1272.7" cy="864.6" r="4.3"/><circle cx="1339.7" cy="917.8" r="4.3"/><circle cx="1238.9" cy="765.0" r="4.3"/><circle cx="1394.2" cy="878.3" r="4.3"/><circle cx="1397.4" cy="839.4" r="4.3"/><circle cx="1389.9" cy="802.7" r="4.3"/><circle cx="1335.1" cy="893.5" r="4.3"/><circle cx="1329.6" cy="889.6" r="4.3"/><circle cx="1361.2" cy="908.5" r="4.3"/><circle cx="1335.2" cy="900.2" r="4.3"/><circle cx="1463.9" cy="781.5" r="4.3"/><circle cx="1339.7" cy="917.6" r="4.3"/><circle cx="1338.9" cy="903.5" r="4.3"/><circle cx="1312.0" cy="881.4" r="4.3"/><circle cx="1322.9" cy="873.9" r="4.3"/><circle cx="1345.2" cy="918.8" r="4.3"/><circle cx="1337.5" cy="917.5" r="4.3"/><circle cx="1425.7" cy="846.3" r="4.3"/><circle cx="1301.3" cy="889.7" r="4.3"/><circle cx="1411.3" cy="844.0" r="4.3"/><circle cx="1459.7" cy="828.9" r="4.3"/><circle cx="1347.4" cy="913.7" r="4.3"/><circle cx="1372.1" cy="897.3" r="4.3"/><circle cx="1342.2" cy="919.6" r="4.3"/><circle cx="1279.4" cy="812.6" r="4.3"/><circle cx="1346.6" cy="913.7" r="4.3"/><circle cx="1350.8" cy="897.9" r="4.3"/><circle cx="1335.8" cy="914.0" r="4.3"/><circle cx="1370.0" cy="897.8" r="4.3"/><circle cx="1306.6" cy="846.5" r="4.3"/><circle cx="1293.6" cy="849.9" r="4.3"/><circle cx="1343.8" cy="919.7" r="4.3"/><circle cx="1384.5" cy="788.0" r="4.3"/><circle cx="1293.7" cy="857.2" r="4.3"/><circle cx="1420.1" cy="830.3" r="4.3"/><circle cx="1326.1" cy="906.3" r="4.3"/><circle cx="1299.1" cy="890.8" r="4.3"/><circle cx="1310.8" cy="899.2" r="4.3"/><circle cx="1379.5" cy="885.0" r="4.3"/><circle cx="1335.6" cy="916.9" r="4.3"/><circle cx="1317.2" cy="896.7" r="4.3"/><circle cx="1346.2" cy="917.9" r="4.3"/><circle cx="1331.7" cy="895.1" r="4.3"/><circle cx="1262.8" cy="820.4" r="4.3"/><circle cx="1286.5" cy="793.0" r="4.3"/><circle cx="1349.5" cy="912.8" r="4.3"/><circle cx="1354.0" cy="904.7" r="4.3"/><circle cx="1426.9" cy="829.2" r="4.3"/><circle cx="1334.8" cy="910.1" r="4.3"/><circle cx="1318.2" cy="899.1" r="4.3"/><circle cx="1389.5" cy="771.7" r="4.3"/><circle cx="1323.0" cy="907.6" r="4.3"/><circle cx="1312.8" cy="841.1" r="4.3"/><circle cx="1340.8" cy="914.0" r="4.3"/><circle cx="1333.1" cy="901.6" r="4.3"/><circle cx="1371.2" cy="809.5" r="4.3"/><circle cx="1310.4" cy="860.8" r="4.3"/><circle cx="1312.4" cy="899.5" r="4.3"/><circle cx="1325.4" cy="901.1" r="4.3"/><circle cx="1353.3" cy="899.3" r="4.3"/><circle cx="1310.5" cy="791.6" r="4.3"/><circle cx="1264.6" cy="799.6" r="4.3"/><circle cx="1310.3" cy="881.3" r="4.3"/><circle cx="1318.2" cy="900.9" r="4.3"/><circle cx="1336.4" cy="911.7" r="4.3"/><circle cx="1347.6" cy="918.1" r="4.3"/><circle cx="1387.8" cy="835.0" r="4.3"/><circle cx="1317.2" cy="902.6" r="4.3"/><circle cx="1330.6" cy="904.3" r="4.3"/><circle cx="1406.5" cy="837.2" r="4.3"/><circle cx="1344.4" cy="917.4" r="4.3"/><circle cx="1413.7" cy="792.6" r="4.3"/><circle cx="1362.2" cy="901.3" r="4.3"/><circle cx="1339.7" cy="914.5" r="4.3"/><circle cx="1389.2" cy="756.2" r="4.3"/><circle cx="1351.5" cy="912.7" r="4.3"/><circle cx="1338.7" cy="912.6" r="4.3"/><circle cx="1451.0" cy="815.2" r="4.3"/><circle cx="1381.5" cy="892.5" r="4.3"/><circle cx="1269.0" cy="858.1" r="4.3"/><circle cx="1337.8" cy="910.7" r="4.3"/><circle cx="1309.4" cy="860.5" r="4.3"/><circle cx="1319.2" cy="898.4" r="4.3"/><circle cx="1283.3" cy="871.3" r="4.3"/><circle cx="1419.1" cy="834.1" r="4.3"/><circle cx="1319.3" cy="896.0" r="4.3"/><circle cx="1278.8" cy="760.2" r="4.3"/><circle cx="1289.6" cy="851.9" r="4.3"/><circle cx="1336.3" cy="908.8" r="4.3"/><circle cx="1310.2" cy="858.0" r="4.3"/><circle cx="1363.7" cy="905.7" r="4.3"/><circle cx="1415.1" cy="848.4" r="4.3"/><circle cx="1284.6" cy="848.6" r="4.3"/><circle cx="1378.1" cy="875.0" r="4.3"/><circle cx="1361.9" cy="853.4" r="4.3"/><circle cx="1406.6" cy="843.8" r="4.3"/><circle cx="1274.5" cy="849.0" r="4.3"/><circle cx="1367.1" cy="882.8" r="4.3"/><circle cx="1315.8" cy="899.2" r="4.3"/><circle cx="1295.8" cy="874.7" r="4.3"/><circle cx="1329.9" cy="898.8" r="4.3"/><circle cx="1400.2" cy="881.0" r="4.3"/><circle cx="1391.0" cy="835.8" r="4.3"/><circle cx="1397.1" cy="873.5" r="4.3"/><circle cx="1309.1" cy="841.0" r="4.3"/><circle cx="1338.2" cy="912.8" r="4.3"/><circle cx="1293.3" cy="825.4" r="4.3"/><circle cx="1304.3" cy="882.6" r="4.3"/><circle cx="1398.3" cy="890.3" r="4.3"/><circle cx="1269.5" cy="830.6" r="4.3"/><circle cx="1429.0" cy="764.9" r="4.3"/><circle cx="1336.8" cy="917.3" r="4.3"/><circle cx="1353.4" cy="908.0" r="4.3"/><circle cx="1370.9" cy="830.0" r="4.3"/><circle cx="1384.2" cy="873.5" r="4.3"/><circle cx="1374.8" cy="885.6" r="4.3"/><circle cx="1382.9" cy="790.9" r="4.3"/><circle cx="1367.1" cy="896.5" r="4.3"/><circle cx="1324.7" cy="817.0" r="4.3"/><circle cx="1226.9" cy="834.1" r="4.3"/><circle cx="1326.5" cy="871.9" r="4.3"/><circle cx="1348.4" cy="912.1" r="4.3"/><circle cx="1327.5" cy="902.3" r="4.3"/><circle cx="1351.5" cy="916.5" r="4.3"/><circle cx="1332.1" cy="911.7" r="4.3"/><circle cx="1366.6" cy="821.0" r="4.3"/><circle cx="1356.0" cy="864.2" r="4.3"/><circle cx="1389.3" cy="849.1" r="4.3"/><circle cx="1338.9" cy="918.0" r="4.3"/><circle cx="1388.3" cy="895.6" r="4.3"/><circle cx="1364.9" cy="773.6" r="4.3"/><circle cx="1330.4" cy="910.1" r="4.3"/><circle cx="1324.9" cy="907.1" r="4.3"/><circle cx="1343.1" cy="920.5" r="4.3"/><circle cx="1391.9" cy="769.0" r="4.3"/><circle cx="1393.0" cy="836.7" r="4.3"/><circle cx="1369.6" cy="896.7" r="4.3"/><circle cx="1342.6" cy="920.1" r="4.3"/><circle cx="1309.3" cy="901.0" r="4.3"/><circle cx="1315.7" cy="881.0" r="4.3"/><circle cx="1292.4" cy="798.0" r="4.3"/><circle cx="1323.2" cy="908.6" r="4.3"/><circle cx="1338.4" cy="908.8" r="4.3"/><circle cx="1382.8" cy="888.3" r="4.3"/><circle cx="1323.4" cy="863.4" r="4.3"/><circle cx="1401.9" cy="777.9" r="4.3"/><circle cx="1348.8" cy="914.8" r="4.3"/><circle cx="1383.1" cy="806.6" r="4.3"/><circle cx="1268.8" cy="807.5" r="4.3"/><circle cx="1333.1" cy="902.9" r="4.3"/><circle cx="1290.2" cy="867.2" r="4.3"/><circle cx="1280.6" cy="822.8" r="4.3"/><circle cx="1370.0" cy="897.7" r="4.3"/><circle cx="1346.1" cy="910.6" r="4.3"/><circle cx="1340.6" cy="908.8" r="4.3"/><circle cx="1323.7" cy="853.5" r="4.3"/><circle cx="1354.6" cy="868.9" r="4.3"/><circle cx="1345.8" cy="913.9" r="4.3"/><circle cx="1369.1" cy="830.3" r="4.3"/><circle cx="1344.6" cy="905.5" r="4.3"/><circle cx="1346.1" cy="908.7" r="4.3"/><circle cx="1358.0" cy="824.9" r="4.3"/><circle cx="1337.6" cy="910.4" r="4.3"/><circle cx="1350.1" cy="892.3" r="4.3"/><circle cx="1342.8" cy="918.7" r="4.3"/><circle cx="1342.4" cy="918.8" r="4.3"/><circle cx="1372.0" cy="764.8" r="4.3"/><circle cx="1344.3" cy="913.9" r="4.3"/><circle cx="1357.8" cy="867.5" r="4.3"/><circle cx="1346.0" cy="913.7" r="4.3"/><circle cx="1336.7" cy="879.4" r="4.3"/><circle cx="1345.0" cy="916.8" r="4.3"/><circle cx="1325.5" cy="792.0" r="4.3"/><circle cx="1322.0" cy="797.0" r="4.3"/><circle cx="1344.7" cy="916.4" r="4.3"/><circle cx="1360.6" cy="764.9" r="4.3"/><circle cx="1344.4" cy="913.9" r="4.3"/><circle cx="1353.8" cy="847.7" r="4.3"/><circle cx="1338.5" cy="895.1" r="4.3"/><circle cx="1329.6" cy="883.5" r="4.3"/><circle cx="1333.5" cy="893.0" r="4.3"/><circle cx="1370.1" cy="810.7" r="4.3"/><circle cx="1342.5" cy="916.8" r="4.3"/><circle cx="1324.4" cy="869.3" r="4.3"/><circle cx="1328.3" cy="862.3" r="4.3"/><circle cx="1341.7" cy="919.2" r="4.3"/><circle cx="1341.5" cy="899.8" r="4.3"/><circle cx="1334.4" cy="853.3" r="4.3"/><circle cx="1357.2" cy="872.7" r="4.3"/><circle cx="1359.9" cy="862.4" r="4.3"/><circle cx="1341.5" cy="915.0" r="4.3"/><circle cx="1334.7" cy="872.1" r="4.3"/><circle cx="1379.0" cy="854.9" r="4.3"/><circle cx="1336.7" cy="874.5" r="4.3"/><circle cx="1334.3" cy="883.8" r="4.3"/><circle cx="1324.9" cy="883.4" r="4.3"/><circle cx="1342.8" cy="918.6" r="4.3"/><circle cx="1359.6" cy="765.8" r="4.3"/><circle cx="1343.6" cy="919.2" r="4.3"/><circle cx="1358.1" cy="857.0" r="4.3"/><circle cx="1349.8" cy="888.3" r="4.3"/><circle cx="1327.9" cy="893.1" r="4.3"/><circle cx="1341.8" cy="914.3" r="4.3"/><circle cx="1336.0" cy="898.7" r="4.3"/><circle cx="1335.7" cy="886.7" r="4.3"/><circle cx="1353.7" cy="836.8" r="4.3"/><circle cx="1331.0" cy="895.1" r="4.3"/><circle cx="1343.2" cy="920.2" r="4.3"/><circle cx="1338.4" cy="909.2" r="4.3"/><circle cx="1364.4" cy="779.1" r="4.3"/><circle cx="1331.8" cy="864.3" r="4.3"/><circle cx="1337.8" cy="898.6" r="4.3"/><circle cx="1350.9" cy="890.1" r="4.3"/><circle cx="1335.4" cy="874.3" r="4.3"/><circle cx="1352.1" cy="858.3" r="4.3"/><circle cx="1389.7" cy="770.4" r="4.3"/><circle cx="1344.2" cy="914.5" r="4.3"/><circle cx="1356.4" cy="820.2" r="4.3"/><circle cx="1346.6" cy="895.5" r="4.3"/><circle cx="1330.2" cy="876.7" r="4.3"/><circle cx="1349.0" cy="885.2" r="4.3"/><circle cx="1343.0" cy="920.3" r="4.3"/><circle cx="1404.9" cy="749.9" r="4.3"/><circle cx="1345.3" cy="914.9" r="4.3"/><circle cx="1327.6" cy="849.5" r="4.3"/><circle cx="1344.3" cy="913.7" r="4.3"/><circle cx="1356.4" cy="827.2" r="4.3"/><circle cx="1365.2" cy="858.7" r="4.3"/><circle cx="1363.6" cy="849.5" r="4.3"/><circle cx="1354.9" cy="845.3" r="4.3"/><circle cx="1341.7" cy="909.7" r="4.3"/><circle cx="1345.3" cy="895.4" r="4.3"/><circle cx="1333.4" cy="865.1" r="4.3"/><circle cx="1344.8" cy="904.3" r="4.3"/><circle cx="1338.9" cy="899.1" r="4.3"/><circle cx="1344.7" cy="912.7" r="4.3"/><circle cx="1318.6" cy="837.2" r="4.3"/><circle cx="1348.5" cy="896.1" r="4.3"/><circle cx="1340.8" cy="912.8" r="4.3"/><circle cx="1331.3" cy="850.6" r="4.3"/><circle cx="1383.0" cy="772.6" r="4.3"/><circle cx="1373.5" cy="844.7" r="4.3"/><circle cx="1359.9" cy="877.8" r="4.3"/><circle cx="1351.3" cy="891.6" r="4.3"/><circle cx="1331.2" cy="887.7" r="4.3"/><circle cx="1349.8" cy="871.9" r="4.3"/><circle cx="1373.1" cy="841.5" r="4.3"/><circle cx="1335.5" cy="881.1" r="4.3"/><circle cx="1323.3" cy="825.2" r="4.3"/><circle cx="1359.3" cy="825.5" r="4.3"/><circle cx="1329.7" cy="846.0" r="4.3"/><circle cx="1341.8" cy="916.2" r="4.3"/><circle cx="1323.7" cy="798.2" r="4.3"/><circle cx="1328.3" cy="817.1" r="4.3"/><circle cx="1344.9" cy="896.4" r="4.3"/><circle cx="1331.1" cy="886.2" r="4.3"/><circle cx="1337.5" cy="905.5" r="4.3"/><circle cx="1361.8" cy="773.6" r="4.3"/><circle cx="1346.4" cy="900.0" r="4.3"/><circle cx="1333.9" cy="896.2" r="4.3"/><circle cx="1346.7" cy="903.4" r="4.3"/><circle cx="1336.3" cy="899.8" r="4.3"/><circle cx="1318.5" cy="772.2" r="4.3"/><circle cx="1338.1" cy="903.5" r="4.3"/><circle cx="1347.0" cy="896.6" r="4.3"/><circle cx="1342.2" cy="917.7" r="4.3"/><circle cx="1332.2" cy="852.2" r="4.3"/><circle cx="1325.9" cy="784.7" r="4.3"/><circle cx="1335.8" cy="869.2" r="4.3"/><circle cx="1363.7" cy="823.0" r="4.3"/><circle cx="1316.4" cy="821.2" r="4.3"/><circle cx="1315.0" cy="776.3" r="4.3"/><circle cx="1344.8" cy="914.9" r="4.3"/><circle cx="1335.8" cy="879.1" r="4.3"/><circle cx="1340.6" cy="913.3" r="4.3"/><circle cx="1341.0" cy="913.9" r="4.3"/><circle cx="1359.5" cy="851.2" r="4.3"/><circle cx="1335.7" cy="903.2" r="4.3"/><circle cx="1326.7" cy="863.3" r="4.3"/><circle cx="1355.4" cy="835.6" r="4.3"/><circle cx="1331.3" cy="880.0" r="4.3"/><circle cx="1324.6" cy="789.9" r="4.3"/><circle cx="1348.9" cy="891.1" r="4.3"/><circle cx="1359.1" cy="809.1" r="4.3"/><circle cx="1350.2" cy="875.3" r="4.3"/><circle cx="1341.9" cy="909.2" r="4.3"/><circle cx="1329.0" cy="867.6" r="4.3"/><circle cx="1334.2" cy="874.2" r="4.3"/><circle cx="1346.8" cy="914.4" r="4.3"/><circle cx="1347.5" cy="906.1" r="4.3"/><circle cx="1329.0" cy="843.7" r="4.3"/><circle cx="1334.0" cy="891.9" r="4.3"/><circle cx="1339.9" cy="905.9" r="4.3"/><circle cx="1319.7" cy="817.0" r="4.3"/><circle cx="1360.9" cy="821.2" r="4.3"/><circle cx="1339.7" cy="901.5" r="4.3"/><circle cx="1333.0" cy="882.2" r="4.3"/><circle cx="1341.1" cy="915.8" r="4.3"/><circle cx="1351.8" cy="861.3" r="4.3"/><circle cx="1332.9" cy="889.0" r="4.3"/><circle cx="1352.7" cy="891.0" r="4.3"/><circle cx="1323.6" cy="851.6" r="4.3"/><circle cx="1344.8" cy="911.3" r="4.3"/><circle cx="1332.0" cy="878.7" r="4.3"/><circle cx="1354.0" cy="849.2" r="4.3"/><circle cx="1354.1" cy="838.8" r="4.3"/><circle cx="1338.1" cy="906.3" r="4.3"/><circle cx="1345.3" cy="910.3" r="4.3"/><circle cx="1331.0" cy="889.6" r="4.3"/><circle cx="1345.9" cy="917.2" r="4.3"/><circle cx="1329.5" cy="818.7" r="4.3"/><circle cx="1338.4" cy="894.9" r="4.3"/><circle cx="1355.8" cy="752.8" r="4.3"/><circle cx="1356.0" cy="780.9" r="4.3"/><circle cx="1348.9" cy="901.0" r="4.3"/><circle cx="1367.5" cy="796.5" r="4.3"/><circle cx="1354.8" cy="868.7" r="4.3"/><circle cx="1346.3" cy="909.2" r="4.3"/><circle cx="1307.7" cy="799.2" r="4.3"/><circle cx="1332.7" cy="874.7" r="4.3"/><circle cx="1353.7" cy="891.9" r="4.3"/><circle cx="1331.0" cy="880.0" r="4.3"/><circle cx="1358.0" cy="839.1" r="4.3"/><circle cx="1326.9" cy="821.4" r="4.3"/><circle cx="1344.2" cy="916.6" r="4.3"/><circle cx="1333.7" cy="899.3" r="4.3"/><circle cx="1352.9" cy="886.2" r="4.3"/><circle cx="1338.1" cy="911.9" r="4.3"/><circle cx="1339.6" cy="904.4" r="4.3"/><circle cx="1345.2" cy="911.2" r="4.3"/><circle cx="1335.4" cy="897.0" r="4.3"/><circle cx="1355.8" cy="858.7" r="4.3"/><circle cx="1346.7" cy="897.2" r="4.3"/><circle cx="1345.1" cy="910.0" r="4.3"/><circle cx="1341.1" cy="908.8" r="4.3"/><circle cx="1371.7" cy="844.3" r="4.3"/><circle cx="1377.8" cy="762.9" r="4.3"/><circle cx="1354.2" cy="887.8" r="4.3"/><circle cx="1347.0" cy="914.8" r="4.3"/><circle cx="1343.1" cy="920.4" r="4.3"/><circle cx="1321.4" cy="790.7" r="4.3"/><circle cx="1365.7" cy="760.1" r="4.3"/><circle cx="1347.4" cy="892.8" r="4.3"/><circle cx="1322.2" cy="829.5" r="4.3"/><circle cx="1339.3" cy="907.3" r="4.3"/><circle cx="1304.0" cy="766.5" r="4.3"/><circle cx="1334.7" cy="857.2" r="4.3"/><circle cx="1339.1" cy="890.8" r="4.3"/><circle cx="1358.3" cy="827.9" r="4.3"/><circle cx="1361.8" cy="871.1" r="4.3"/><circle cx="1344.3" cy="917.9" r="4.3"/><circle cx="1358.8" cy="875.2" r="4.3"/><circle cx="1330.8" cy="901.1" r="4.3"/><circle cx="1315.8" cy="831.4" r="4.3"/><circle cx="1330.1" cy="842.1" r="4.3"/><circle cx="1319.2" cy="759.0" r="4.3"/><circle cx="1344.5" cy="910.5" r="4.3"/><circle cx="1402.5" cy="824.1" r="4.3"/><circle cx="1347.4" cy="908.6" r="4.3"/><circle cx="1352.2" cy="886.0" r="4.3"/><circle cx="1339.4" cy="902.7" r="4.3"/><circle cx="1332.1" cy="871.6" r="4.3"/><circle cx="1316.6" cy="807.4" r="4.3"/><circle cx="1381.4" cy="791.1" r="4.3"/><circle cx="1332.4" cy="831.8" r="4.3"/><circle cx="1351.9" cy="891.2" r="4.3"/><circle cx="1357.4" cy="865.3" r="4.3"/><circle cx="1368.3" cy="778.3" r="4.3"/><circle cx="1317.0" cy="845.7" r="4.3"/><circle cx="1357.0" cy="764.1" r="4.3"/><circle cx="1376.4" cy="846.1" r="4.3"/><circle cx="1311.7" cy="768.5" r="4.3"/><circle cx="1326.5" cy="873.8" r="4.3"/><circle cx="1341.6" cy="915.2" r="4.3"/><circle cx="1327.8" cy="818.8" r="4.3"/><circle cx="1321.3" cy="756.0" r="4.3"/><circle cx="1338.5" cy="901.7" r="4.3"/><circle cx="1345.6" cy="909.6" r="4.3"/><circle cx="1352.4" cy="873.2" r="4.3"/><circle cx="1343.0" cy="920.5" r="4.3"/><circle cx="1345.1" cy="914.9" r="4.3"/><circle cx="1332.9" cy="900.2" r="4.3"/><circle cx="1342.2" cy="915.4" r="4.3"/><circle cx="1347.2" cy="901.9" r="4.3"/><circle cx="1372.4" cy="820.9" r="4.3"/><circle cx="1343.7" cy="918.4" r="4.3"/><circle cx="1339.8" cy="909.1" r="4.3"/><circle cx="1346.5" cy="905.9" r="4.3"/><circle cx="1352.0" cy="864.8" r="4.3"/><circle cx="1320.2" cy="754.2" r="4.3"/><circle cx="1359.0" cy="792.0" r="4.3"/><circle cx="1358.8" cy="878.9" r="4.3"/><circle cx="1322.0" cy="843.1" r="4.3"/><circle cx="1348.6" cy="899.0" r="4.3"/><circle cx="1340.3" cy="914.2" r="4.3"/><circle cx="1328.3" cy="876.7" r="4.3"/><circle cx="1330.9" cy="822.9" r="4.3"/><circle cx="1358.1" cy="870.9" r="4.3"/><circle cx="1352.4" cy="876.5" r="4.3"/><circle cx="1328.3" cy="883.6" r="4.3"/><circle cx="1352.2" cy="889.0" r="4.3"/><circle cx="1333.9" cy="873.2" r="4.3"/><circle cx="1343.3" cy="918.6" r="4.3"/><circle cx="1368.5" cy="881.9" r="4.3"/><circle cx="1337.7" cy="886.7" r="4.3"/><circle cx="1350.2" cy="870.2" r="4.3"/><circle cx="1322.2" cy="792.1" r="4.3"/><circle cx="1329.5" cy="889.8" r="4.3"/><circle cx="1353.7" cy="869.5" r="4.3"/><circle cx="1346.6" cy="900.5" r="4.3"/><circle cx="1339.5" cy="904.9" r="4.3"/><circle cx="1347.7" cy="902.0" r="4.3"/><circle cx="1367.5" cy="846.3" r="4.3"/><circle cx="1358.2" cy="901.9" r="4.3"/><circle cx="1355.6" cy="892.4" r="4.3"/><circle cx="1341.5" cy="916.0" r="4.3"/><circle cx="1341.5" cy="914.5" r="4.3"/><circle cx="1334.4" cy="892.1" r="4.3"/><circle cx="1344.0" cy="918.6" r="4.3"/><circle cx="1330.9" cy="883.9" r="4.3"/><circle cx="1341.4" cy="913.6" r="4.3"/><circle cx="1332.2" cy="885.5" r="4.3"/><circle cx="1363.7" cy="793.5" r="4.3"/><circle cx="1367.1" cy="773.1" r="4.3"/><circle cx="1338.4" cy="898.0" r="4.3"/><circle cx="1355.7" cy="861.7" r="4.3"/><circle cx="1356.3" cy="852.1" r="4.3"/><circle cx="1363.5" cy="860.2" r="4.3"/><circle cx="1352.4" cy="877.3" r="4.3"/><circle cx="1331.4" cy="860.9" r="4.3"/><circle cx="1347.7" cy="909.1" r="4.3"/><circle cx="1333.9" cy="891.7" r="4.3"/><circle cx="1342.3" cy="919.0" r="4.3"/><circle cx="1295.5" cy="778.8" r="4.3"/><circle cx="1368.5" cy="775.0" r="4.3"/><circle cx="1341.9" cy="912.6" r="4.3"/><circle cx="1342.9" cy="919.8" r="4.3"/><circle cx="1348.3" cy="892.0" r="4.3"/><circle cx="1351.6" cy="897.0" r="4.3"/><circle cx="1357.6" cy="857.7" r="4.3"/><circle cx="1343.3" cy="919.5" r="4.3"/><circle cx="1343.5" cy="919.8" r="4.3"/><circle cx="1336.2" cy="892.7" r="4.3"/><circle cx="1311.5" cy="786.5" r="4.3"/><circle cx="1330.1" cy="891.3" r="4.3"/><circle cx="1329.4" cy="788.3" r="4.3"/><circle cx="1355.8" cy="842.6" r="4.3"/><circle cx="1328.7" cy="859.4" r="4.3"/><circle cx="1355.4" cy="852.2" r="4.3"/><circle cx="1349.4" cy="897.7" r="4.3"/><circle cx="1341.9" cy="914.6" r="4.3"/><circle cx="1351.3" cy="862.8" r="4.3"/><circle cx="1327.5" cy="831.3" r="4.3"/><circle cx="1352.4" cy="845.7" r="4.3"/><circle cx="1334.0" cy="838.0" r="4.3"/><circle cx="1344.1" cy="911.0" r="4.3"/><circle cx="1348.9" cy="892.2" r="4.3"/><circle cx="1331.4" cy="874.6" r="4.3"/><circle cx="1322.4" cy="763.6" r="4.3"/><circle cx="1357.2" cy="847.4" r="4.3"/><circle cx="1341.5" cy="907.9" r="4.3"/><circle cx="1355.6" cy="869.0" r="4.3"/><circle cx="1347.5" cy="895.5" r="4.3"/><circle cx="1350.4" cy="872.2" r="4.3"/><circle cx="1344.4" cy="914.6" r="4.3"/><circle cx="1316.3" cy="810.7" r="4.3"/><circle cx="1343.8" cy="916.7" r="4.3"/><circle cx="1322.0" cy="820.7" r="4.3"/><circle cx="1342.6" cy="918.1" r="4.3"/><circle cx="1356.0" cy="835.6" r="4.3"/><circle cx="1300.9" cy="780.4" r="4.3"/><circle cx="1337.9" cy="896.2" r="4.3"/><circle cx="1336.5" cy="897.2" r="4.3"/><circle cx="1338.9" cy="902.1" r="4.3"/><circle cx="1336.5" cy="898.8" r="4.3"/><circle cx="1349.3" cy="880.2" r="4.3"/><circle cx="1342.0" cy="917.1" r="4.3"/><circle cx="1322.7" cy="880.3" r="4.3"/><circle cx="1340.1" cy="909.1" r="4.3"/><circle cx="1325.0" cy="873.4" r="4.3"/><circle cx="1340.8" cy="917.8" r="4.3"/><circle cx="1326.5" cy="853.8" r="4.3"/><circle cx="1344.6" cy="909.6" r="4.3"/><circle cx="1354.5" cy="856.2" r="4.3"/><circle cx="1359.2" cy="840.3" r="4.3"/></g>
<line x1="926" y1="661.7" x2="1757" y2="661.7" stroke="#000" stroke-width="2.3"/>
<text x="1756.8" y="687" font-size="23.5" text-anchor="end" stroke="#000" stroke-width="0.2">P = 0.05</text>
<line x1="1205.1" y1="512.1" x2="1240.1" y2="470.8" stroke="#2a8cc0" stroke-width="1.1"/>
<circle cx="968.4" cy="105.5" r="6.4" fill="#0a74fb"/>
<circle cx="1032.7" cy="225.8" r="6.4" fill="#0a74fb"/>
<circle cx="1268.9" cy="404.6" r="6.4" fill="#0a74fb"/>
<circle cx="1084.5" cy="456.1" r="6.4" fill="#0a74fb"/>
<circle cx="1137.3" cy="484.7" r="6.4" fill="#0a74fb"/>
<circle cx="1143.1" cy="518.9" r="6.4" fill="#0a74fb"/>
<circle cx="1200.2" cy="516" r="6.4" fill="#0a74fb"/>
<circle cx="1263.2" cy="506.1" r="6.4" fill="#0a74fb"/>
<circle cx="1234.7" cy="536.2" r="6.4" fill="#0a74fb"/>
<circle cx="1307.5" cy="537.6" r="6.4" fill="#0a74fb"/>
<circle cx="1238.8" cy="559.2" r="6.4" fill="#0a74fb"/>
<circle cx="1266.1" cy="579" r="6.4" fill="#0a74fb"/>
<circle cx="1260.2" cy="586.2" r="6.4" fill="#0a74fb"/>
<circle cx="1280.2" cy="592.8" r="6.4" fill="#0a74fb"/>
<circle cx="1275.9" cy="600.4" r="6.4" fill="#0a74fb"/>
<circle cx="1295.9" cy="603.1" r="6.4" fill="#0a74fb"/>
<circle cx="1237.6" cy="600.5" r="6.4" fill="#0a74fb"/>
<circle cx="1168.7" cy="607.6" r="6.4" fill="#0a74fb"/>
<circle cx="1184.8" cy="623.6" r="6.4" fill="#0a74fb"/>
<circle cx="1175.8" cy="634.7" r="6.4" fill="#0a74fb"/>
<circle cx="1308.8" cy="619.1" r="6.4" fill="#0a74fb"/>
<circle cx="1227.2" cy="627.8" r="6.4" fill="#0a74fb"/>
<circle cx="1245.9" cy="623.6" r="6.4" fill="#0a74fb"/>
<circle cx="1240.1" cy="631.2" r="6.4" fill="#0a74fb"/>
<circle cx="1311.6" cy="649" r="6.4" fill="#0a74fb"/>
<circle cx="1022.7" cy="636" r="6.4" fill="#0a74fb"/>
<circle cx="1078.4" cy="657.6" r="6.4" fill="#0a74fb"/>
<circle cx="1180.2" cy="659.1" r="6.4" fill="#0a74fb"/>
<circle cx="1371.7" cy="299.9" r="6.3" fill="#e50b3d"/>
<circle cx="1371.7" cy="312.9" r="6.3" fill="#e50b3d"/>
<circle cx="1421.6" cy="367.5" r="6.3" fill="#e50b3d"/>
<circle cx="1443.5" cy="430.3" r="6.3" fill="#e50b3d"/>
<circle cx="1489.1" cy="434.6" r="6.3" fill="#e50b3d"/>
<circle cx="1501.7" cy="438.4" r="6.3" fill="#e50b3d"/>
<circle cx="1390.4" cy="440.3" r="6.3" fill="#e50b3d"/>
<circle cx="1370.4" cy="450.2" r="6.3" fill="#e50b3d"/>
<circle cx="1379.3" cy="461.6" r="6.3" fill="#e50b3d"/>
<circle cx="1386.4" cy="463.2" r="6.3" fill="#e50b3d"/>
<circle cx="1381.9" cy="468.8" r="6.3" fill="#e50b3d"/>
<circle cx="1419.2" cy="489.9" r="6.3" fill="#e50b3d"/>
<circle cx="1403.4" cy="494.7" r="6.3" fill="#e50b3d"/>
<circle cx="1426.2" cy="497.7" r="6.3" fill="#e50b3d"/>
<circle cx="1414.7" cy="504.9" r="6.3" fill="#e50b3d"/>
<circle cx="1483.5" cy="503.1" r="6.3" fill="#e50b3d"/>
<circle cx="1553.6" cy="494.6" r="6.3" fill="#e50b3d"/>
<circle cx="1573.7" cy="497" r="6.3" fill="#e50b3d"/>
<circle cx="1571" cy="506.5" r="6.3" fill="#e50b3d"/>
<circle cx="1437.8" cy="524.6" r="6.3" fill="#e50b3d"/>
<circle cx="1493.4" cy="530.7" r="6.3" fill="#e50b3d"/>
<circle cx="1540" cy="533.5" r="6.3" fill="#e50b3d"/>
<circle cx="1502.1" cy="545" r="6.3" fill="#e50b3d"/>
<circle cx="1529.2" cy="543.7" r="6.3" fill="#e50b3d"/>
<circle cx="1377.7" cy="539.6" r="6.3" fill="#e50b3d"/>
<circle cx="1409.4" cy="537.5" r="6.3" fill="#e50b3d"/>
<circle cx="1410.1" cy="546.5" r="6.3" fill="#e50b3d"/>
<circle cx="1374.7" cy="554.6" r="6.3" fill="#e50b3d"/>
<circle cx="1381.4" cy="573.3" r="6.3" fill="#e50b3d"/>
<circle cx="1389.2" cy="576.4" r="6.3" fill="#e50b3d"/>
<circle cx="1413.3" cy="581.8" r="6.3" fill="#e50b3d"/>
<circle cx="1506.3" cy="577.6" r="6.3" fill="#e50b3d"/>
<circle cx="1493.4" cy="586.2" r="6.3" fill="#e50b3d"/>
<circle cx="1589.6" cy="573.2" r="6.3" fill="#e50b3d"/>
<circle cx="1371.9" cy="599" r="6.3" fill="#e50b3d"/>
<circle cx="1387.5" cy="596.1" r="6.3" fill="#e50b3d"/>
<circle cx="1404.8" cy="594.7" r="6.3" fill="#e50b3d"/>
<circle cx="1477.8" cy="607.6" r="6.3" fill="#e50b3d"/>
<circle cx="1515.2" cy="604.5" r="6.3" fill="#e50b3d"/>
<circle cx="1520.6" cy="613.6" r="6.3" fill="#e50b3d"/>
<circle cx="1433.4" cy="615" r="6.3" fill="#e50b3d"/>
<circle cx="1380.5" cy="623.1" r="6.3" fill="#e50b3d"/>
<circle cx="1388.9" cy="631.9" r="6.3" fill="#e50b3d"/>
<circle cx="1401.8" cy="627.6" r="6.3" fill="#e50b3d"/>
<circle cx="1411.3" cy="624.5" r="6.3" fill="#e50b3d"/>
<circle cx="1476.5" cy="629.2" r="6.3" fill="#e50b3d"/>
<circle cx="1423.5" cy="637.5" r="6.3" fill="#e50b3d"/>
<circle cx="1513.8" cy="639.1" r="6.3" fill="#e50b3d"/>
<circle cx="1379" cy="640.5" r="6.3" fill="#e50b3d"/>
<circle cx="1391.6" cy="647.3" r="6.3" fill="#e50b3d"/>
<circle cx="1395.7" cy="645.2" r="6.3" fill="#e50b3d"/>
<circle cx="1399.8" cy="650.7" r="6.3" fill="#e50b3d"/>
<circle cx="1409" cy="646.2" r="6.3" fill="#e50b3d"/>
<circle cx="1467.6" cy="647.7" r="6.3" fill="#e50b3d"/>
<circle cx="1496.4" cy="649" r="6.3" fill="#e50b3d"/>
<circle cx="1371" cy="656.5" r="6.3" fill="#e50b3d"/>
<circle cx="1393.6" cy="660.5" r="6.3" fill="#e50b3d"/>
<circle cx="1416" cy="658.1" r="6.3" fill="#e50b3d"/>
<circle cx="1424.2" cy="653.4" r="6.3" fill="#e50b3d"/>
<circle cx="1419.4" cy="658.8" r="6.3" fill="#e50b3d"/>
<circle cx="1448" cy="654.7" r="6.3" fill="#e50b3d"/>
<circle cx="1523.6" cy="660.2" r="6.3" fill="#e50b3d"/>
<circle cx="1590.7" cy="649.4" r="6.3" fill="#e50b3d"/>
<text x="976.6" y="128.4" font-size="23.3" fill="#0899dd" stroke="#0899dd" stroke-width="0.25">PDE4DIP</text>
<text x="1038.4" y="247.9" font-size="23.3" fill="#0899dd" stroke="#0899dd" stroke-width="0.25">BASP1</text>
<text x="1272.9" y="397.3" font-size="23.3" fill="#0899dd" stroke="#0899dd" stroke-width="0.25">HPR</text>
<text x="1010.7" y="475.6" font-size="23.3" fill="#0899dd" stroke="#0899dd" stroke-width="0.25">FAIM3</text>
<text x="1138.3" y="473.7" font-size="23.3" fill="#0899dd" stroke="#0899dd" stroke-width="0.25">ASPN</text>
<text x="1239.4" y="468" font-size="23.3" fill="#0899dd" stroke="#0899dd" stroke-width="0.25">MUC5B</text>
<text x="1043.9" y="541.9" font-size="23.3" fill="#0899dd" stroke="#0899dd" stroke-width="0.25">ENTPD5</text>
<text x="1174.3" y="583" font-size="23.3" fill="#0899dd" stroke="#0899dd" stroke-width="0.25">FTH1</text>
<text x="1028.9" y="630.7" font-size="23.3" fill="#0899dd" stroke="#0899dd" stroke-width="0.25">DEFA3</text>
<text x="1375.1" y="294.2" font-size="23.3" fill="#ee0000" stroke="#ee0000" stroke-width="0.25">SERPINA1</text>
<text x="1377.8" y="335" font-size="23.3" fill="#ee0000" stroke="#ee0000" stroke-width="0.25">ITIH4</text>
<text x="1429.8" y="390.9" font-size="23.3" fill="#ee0000" stroke="#ee0000" stroke-width="0.25">VWF</text>
<text x="1504.2" y="433.7" font-size="23.3" fill="#ee0000" stroke="#ee0000" stroke-width="0.25">GSTO1</text>
<text x="1576.0" y="488.9" font-size="23.3" fill="#ee0000" stroke="#ee0000" stroke-width="0.25">FAM20C</text>
<text x="1490.6" y="521.2" font-size="23.3" fill="#ee0000" stroke="#ee0000" stroke-width="0.25">VAPA</text>
<text x="1575.9" y="529.2" font-size="23.3" fill="#ee0000" stroke="#ee0000" stroke-width="0.25">RNASET2</text>
<text x="1417.2" y="561.7" font-size="23.3" fill="#ee0000" stroke="#ee0000" stroke-width="0.25">PIGR</text>
<text x="1421.0" y="600.7" font-size="23.3" fill="#ee0000" stroke="#ee0000" stroke-width="0.25">LBP</text>
<text x="1594.3" y="589.9" font-size="23.3" fill="#ee0000" stroke="#ee0000" stroke-width="0.25">AKR7A3</text>
<text x="1593.9" y="643.9" font-size="23.3" fill="#ee0000" stroke="#ee0000" stroke-width="0.25">CA2</text>
<line x1="926.3" y1="67.9" x2="926.3" y2="961.5" stroke="#000" stroke-width="2.6" stroke-linecap="round"/>
<line x1="927" y1="963.3" x2="1757.5" y2="963.3" stroke="#000" stroke-width="2.4"/>
<line x1="915.8" y1="920.7" x2="926.3" y2="920.7" stroke="#000" stroke-width="2.2"/>
<text transform="translate(910.5,920.7) rotate(-90)" font-size="24" font-weight="bold" text-anchor="middle">0</text>
<line x1="915.8" y1="818.9" x2="926.3" y2="818.9" stroke="#000" stroke-width="2.2"/>
<text transform="translate(910.5,818.9) rotate(-90)" font-size="24" font-weight="bold" text-anchor="middle">0.5</text>
<line x1="915.8" y1="719.1" x2="926.3" y2="719.1" stroke="#000" stroke-width="2.2"/>
<text transform="translate(910.5,719.1) rotate(-90)" font-size="24" font-weight="bold" text-anchor="middle">1</text>
<line x1="915.8" y1="617.8" x2="926.3" y2="617.8" stroke="#000" stroke-width="2.2"/>
<text transform="translate(910.5,617.8) rotate(-90)" font-size="24" font-weight="bold" text-anchor="middle">1.5</text>
<line x1="915.8" y1="517.8" x2="926.3" y2="517.8" stroke="#000" stroke-width="2.2"/>
<text transform="translate(910.5,517.8) rotate(-90)" font-size="24" font-weight="bold" text-anchor="middle">2</text>
<line x1="915.8" y1="416.3" x2="926.3" y2="416.3" stroke="#000" stroke-width="2.2"/>
<text transform="translate(910.5,416.3) rotate(-90)" font-size="24" font-weight="bold" text-anchor="middle">2.5</text>
<line x1="915.8" y1="315.7" x2="926.3" y2="315.7" stroke="#000" stroke-width="2.2"/>
<text transform="translate(910.5,315.7) rotate(-90)" font-size="24" font-weight="bold" text-anchor="middle">3</text>
<line x1="915.8" y1="215.4" x2="926.3" y2="215.4" stroke="#000" stroke-width="2.2"/>
<text transform="translate(910.5,215.4) rotate(-90)" font-size="24" font-weight="bold" text-anchor="middle">3.5</text>
<line x1="915.8" y1="113.5" x2="926.3" y2="113.5" stroke="#000" stroke-width="2.2"/>
<text transform="translate(910.5,113.5) rotate(-90)" font-size="24" font-weight="bold" text-anchor="middle">4</text>
<line x1="928.8" y1="963" x2="928.8" y2="971.4" stroke="#000" stroke-width="2.4"/>
<text x="910.6" y="994.7" font-size="24" font-weight="bold">-10</text>
<line x1="1011.6" y1="963" x2="1011.6" y2="971.4" stroke="#000" stroke-width="2.4"/>
<text x="1018.3" y="994.7" font-size="24" font-weight="bold" text-anchor="end">-8</text>
<line x1="1094.5" y1="963" x2="1094.5" y2="971.4" stroke="#000" stroke-width="2.4"/>
<text x="1101.2" y="994.7" font-size="24" font-weight="bold" text-anchor="end">-6</text>
<line x1="1177.3" y1="963" x2="1177.3" y2="971.4" stroke="#000" stroke-width="2.4"/>
<text x="1184.0" y="994.7" font-size="24" font-weight="bold" text-anchor="end">-4</text>
<line x1="1260.2" y1="963" x2="1260.2" y2="971.4" stroke="#000" stroke-width="2.4"/>
<text x="1266.9" y="994.7" font-size="24" font-weight="bold" text-anchor="end">-2</text>
<line x1="1343.1" y1="963" x2="1343.1" y2="971.4" stroke="#000" stroke-width="2.4"/>
<text x="1343.1" y="994.7" font-size="24" font-weight="bold" text-anchor="middle">0</text>
<line x1="1425.9" y1="963" x2="1425.9" y2="971.4" stroke="#000" stroke-width="2.4"/>
<text x="1425.9" y="994.7" font-size="24" font-weight="bold" text-anchor="middle">2</text>
<line x1="1508.8" y1="963" x2="1508.8" y2="971.4" stroke="#000" stroke-width="2.4"/>
<text x="1508.8" y="994.7" font-size="24" font-weight="bold" text-anchor="middle">4</text>
<line x1="1591.6" y1="963" x2="1591.6" y2="971.4" stroke="#000" stroke-width="2.4"/>
<text x="1591.6" y="994.7" font-size="24" font-weight="bold" text-anchor="middle">6</text>
<line x1="1674.5" y1="963" x2="1674.5" y2="971.4" stroke="#000" stroke-width="2.4"/>
<text x="1674.5" y="994.7" font-size="24" font-weight="bold" text-anchor="middle">8</text>
<line x1="1757.4" y1="963" x2="1757.4" y2="971.4" stroke="#000" stroke-width="2.4"/>
<text x="1757.4" y="994.7" font-size="24" font-weight="bold" text-anchor="middle">10</text>
<text transform="translate(875.8,681.9) rotate(-90)" font-size="24" font-weight="bold">Log<tspan font-size="15.5" dy="4.7">10</tspan><tspan dy="-4.7">(Student T-test p value)</tspan></text>
<text x="1082.5" y="1021.8" font-size="24" font-weight="bold">Log<tspan font-size="15.5" dy="4.7">2</tspan><tspan dy="-4.7">(Fold-change between Severe and Mild groups)</tspan></text>
</svg>
</body></html>
